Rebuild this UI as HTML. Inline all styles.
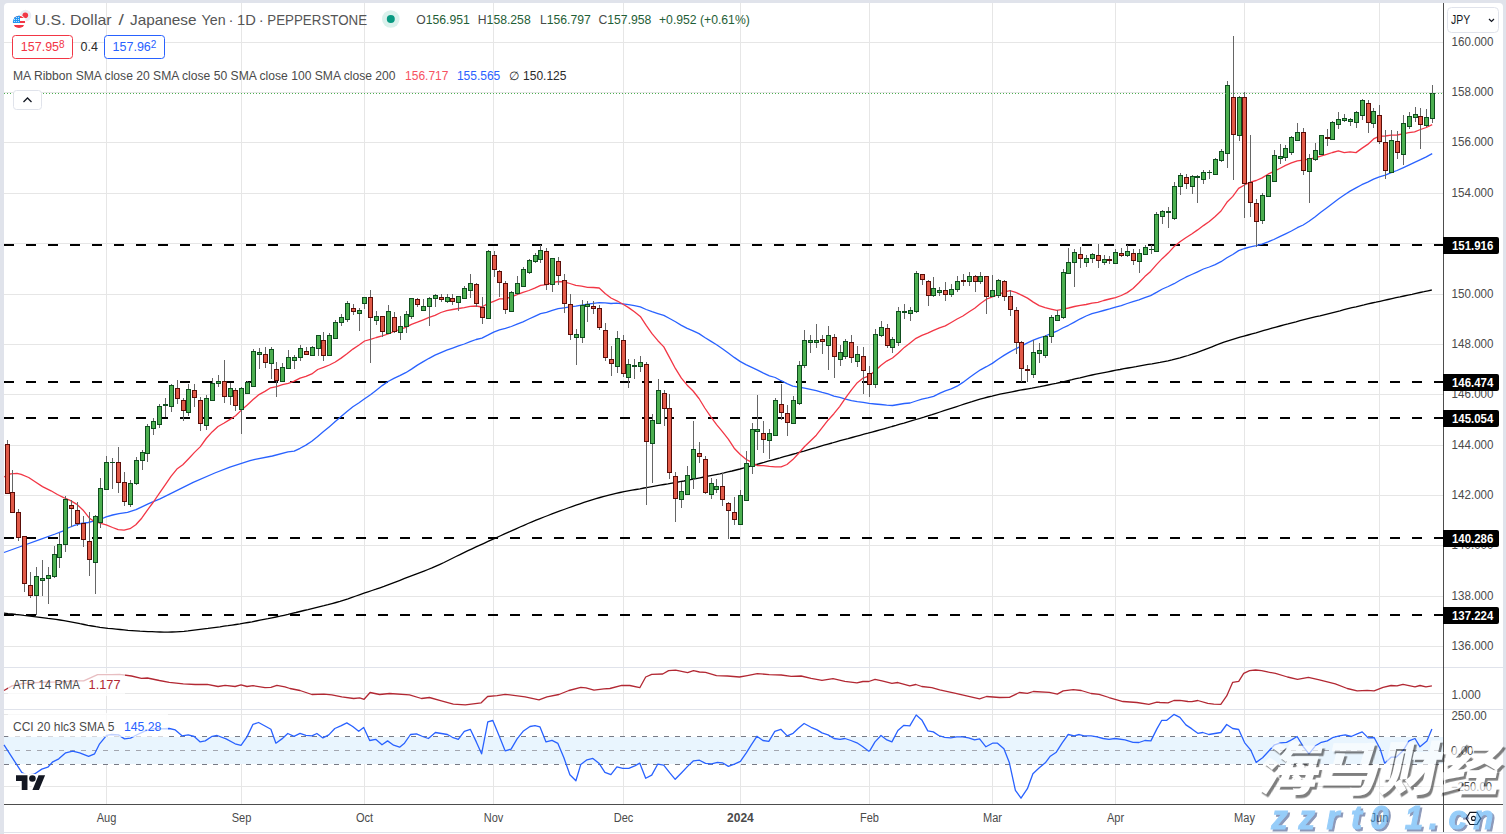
<!DOCTYPE html>
<html><head><meta charset="utf-8"><title>USDJPY 1D</title>
<style>html,body{margin:0;padding:0;background:#e0e3eb;}svg{display:block;}</style></head>
<body><svg width="1506" height="834" viewBox="0 0 1506 834"><defs><filter id="blur1" x="-10%" y="-10%" width="120%" height="120%"><feGaussianBlur stdDeviation="0.7"/></filter></defs><rect x="0" y="0" width="1506" height="834" fill="#e0e3eb"/><path d="M4 7 Q4 3 8 3 H1499 Q1503 3 1503 7 V832 H4 Z" fill="#ffffff"/><rect x="4" y="833" width="1499" height="1" fill="#ffffff"/><g shape-rendering="crispEdges"><rect x="106" y="3" width="1" height="801" fill="#e6e6e6"/><rect x="241" y="3" width="1" height="801" fill="#e6e6e6"/><rect x="364" y="3" width="1" height="801" fill="#e6e6e6"/><rect x="493" y="3" width="1" height="801" fill="#e6e6e6"/><rect x="623" y="3" width="1" height="801" fill="#e6e6e6"/><rect x="740" y="3" width="1" height="801" fill="#e6e6e6"/><rect x="869" y="3" width="1" height="801" fill="#e6e6e6"/><rect x="992" y="3" width="1" height="801" fill="#e6e6e6"/><rect x="1115" y="3" width="1" height="801" fill="#e6e6e6"/><rect x="1244" y="3" width="1" height="801" fill="#e6e6e6"/><rect x="1379" y="3" width="1" height="801" fill="#e6e6e6"/><rect x="4" y="646" width="1439" height="1" fill="#e6e6e6"/><rect x="4" y="596" width="1439" height="1" fill="#e6e6e6"/><rect x="4" y="545" width="1439" height="1" fill="#e6e6e6"/><rect x="4" y="495" width="1439" height="1" fill="#e6e6e6"/><rect x="4" y="445" width="1439" height="1" fill="#e6e6e6"/><rect x="4" y="394" width="1439" height="1" fill="#e6e6e6"/><rect x="4" y="344" width="1439" height="1" fill="#e6e6e6"/><rect x="4" y="294" width="1439" height="1" fill="#e6e6e6"/><rect x="4" y="243" width="1439" height="1" fill="#e6e6e6"/><rect x="4" y="193" width="1439" height="1" fill="#e6e6e6"/><rect x="4" y="142" width="1439" height="1" fill="#e6e6e6"/><rect x="4" y="92" width="1439" height="1" fill="#e6e6e6"/><rect x="4" y="42" width="1439" height="1" fill="#e6e6e6"/><rect x="4" y="693" width="1439" height="1" fill="#e6e6e6"/><rect x="4" y="714" width="1439" height="1" fill="#e6e6e6"/><rect x="4" y="786" width="1439" height="1" fill="#e6e6e6"/></g><rect x="4" y="737" width="1439" height="27" fill="#e9f5fe"/><g shape-rendering="crispEdges"><rect x="4" y="736" width="5" height="1" fill="#787b86"/><rect x="15" y="736" width="5" height="1" fill="#787b86"/><rect x="26" y="736" width="5" height="1" fill="#787b86"/><rect x="37" y="736" width="5" height="1" fill="#787b86"/><rect x="48" y="736" width="5" height="1" fill="#787b86"/><rect x="59" y="736" width="5" height="1" fill="#787b86"/><rect x="70" y="736" width="5" height="1" fill="#787b86"/><rect x="81" y="736" width="5" height="1" fill="#787b86"/><rect x="92" y="736" width="5" height="1" fill="#787b86"/><rect x="103" y="736" width="5" height="1" fill="#787b86"/><rect x="114" y="736" width="5" height="1" fill="#787b86"/><rect x="125" y="736" width="5" height="1" fill="#787b86"/><rect x="136" y="736" width="5" height="1" fill="#787b86"/><rect x="147" y="736" width="5" height="1" fill="#787b86"/><rect x="158" y="736" width="5" height="1" fill="#787b86"/><rect x="169" y="736" width="5" height="1" fill="#787b86"/><rect x="180" y="736" width="5" height="1" fill="#787b86"/><rect x="191" y="736" width="5" height="1" fill="#787b86"/><rect x="202" y="736" width="5" height="1" fill="#787b86"/><rect x="213" y="736" width="5" height="1" fill="#787b86"/><rect x="224" y="736" width="5" height="1" fill="#787b86"/><rect x="235" y="736" width="5" height="1" fill="#787b86"/><rect x="246" y="736" width="5" height="1" fill="#787b86"/><rect x="257" y="736" width="5" height="1" fill="#787b86"/><rect x="268" y="736" width="5" height="1" fill="#787b86"/><rect x="279" y="736" width="5" height="1" fill="#787b86"/><rect x="290" y="736" width="5" height="1" fill="#787b86"/><rect x="301" y="736" width="5" height="1" fill="#787b86"/><rect x="312" y="736" width="5" height="1" fill="#787b86"/><rect x="323" y="736" width="5" height="1" fill="#787b86"/><rect x="334" y="736" width="5" height="1" fill="#787b86"/><rect x="345" y="736" width="5" height="1" fill="#787b86"/><rect x="356" y="736" width="5" height="1" fill="#787b86"/><rect x="367" y="736" width="5" height="1" fill="#787b86"/><rect x="378" y="736" width="5" height="1" fill="#787b86"/><rect x="389" y="736" width="5" height="1" fill="#787b86"/><rect x="400" y="736" width="5" height="1" fill="#787b86"/><rect x="411" y="736" width="5" height="1" fill="#787b86"/><rect x="422" y="736" width="5" height="1" fill="#787b86"/><rect x="433" y="736" width="5" height="1" fill="#787b86"/><rect x="444" y="736" width="5" height="1" fill="#787b86"/><rect x="455" y="736" width="5" height="1" fill="#787b86"/><rect x="466" y="736" width="5" height="1" fill="#787b86"/><rect x="477" y="736" width="5" height="1" fill="#787b86"/><rect x="488" y="736" width="5" height="1" fill="#787b86"/><rect x="499" y="736" width="5" height="1" fill="#787b86"/><rect x="510" y="736" width="5" height="1" fill="#787b86"/><rect x="521" y="736" width="5" height="1" fill="#787b86"/><rect x="532" y="736" width="5" height="1" fill="#787b86"/><rect x="543" y="736" width="5" height="1" fill="#787b86"/><rect x="554" y="736" width="5" height="1" fill="#787b86"/><rect x="565" y="736" width="5" height="1" fill="#787b86"/><rect x="576" y="736" width="5" height="1" fill="#787b86"/><rect x="587" y="736" width="5" height="1" fill="#787b86"/><rect x="598" y="736" width="5" height="1" fill="#787b86"/><rect x="609" y="736" width="5" height="1" fill="#787b86"/><rect x="620" y="736" width="5" height="1" fill="#787b86"/><rect x="631" y="736" width="5" height="1" fill="#787b86"/><rect x="642" y="736" width="5" height="1" fill="#787b86"/><rect x="653" y="736" width="5" height="1" fill="#787b86"/><rect x="664" y="736" width="5" height="1" fill="#787b86"/><rect x="675" y="736" width="5" height="1" fill="#787b86"/><rect x="686" y="736" width="5" height="1" fill="#787b86"/><rect x="697" y="736" width="5" height="1" fill="#787b86"/><rect x="708" y="736" width="5" height="1" fill="#787b86"/><rect x="719" y="736" width="5" height="1" fill="#787b86"/><rect x="730" y="736" width="5" height="1" fill="#787b86"/><rect x="741" y="736" width="5" height="1" fill="#787b86"/><rect x="752" y="736" width="5" height="1" fill="#787b86"/><rect x="763" y="736" width="5" height="1" fill="#787b86"/><rect x="774" y="736" width="5" height="1" fill="#787b86"/><rect x="785" y="736" width="5" height="1" fill="#787b86"/><rect x="796" y="736" width="5" height="1" fill="#787b86"/><rect x="807" y="736" width="5" height="1" fill="#787b86"/><rect x="818" y="736" width="5" height="1" fill="#787b86"/><rect x="829" y="736" width="5" height="1" fill="#787b86"/><rect x="840" y="736" width="5" height="1" fill="#787b86"/><rect x="851" y="736" width="5" height="1" fill="#787b86"/><rect x="862" y="736" width="5" height="1" fill="#787b86"/><rect x="873" y="736" width="5" height="1" fill="#787b86"/><rect x="884" y="736" width="5" height="1" fill="#787b86"/><rect x="895" y="736" width="5" height="1" fill="#787b86"/><rect x="906" y="736" width="5" height="1" fill="#787b86"/><rect x="917" y="736" width="5" height="1" fill="#787b86"/><rect x="928" y="736" width="5" height="1" fill="#787b86"/><rect x="939" y="736" width="5" height="1" fill="#787b86"/><rect x="950" y="736" width="5" height="1" fill="#787b86"/><rect x="961" y="736" width="5" height="1" fill="#787b86"/><rect x="972" y="736" width="5" height="1" fill="#787b86"/><rect x="983" y="736" width="5" height="1" fill="#787b86"/><rect x="994" y="736" width="5" height="1" fill="#787b86"/><rect x="1005" y="736" width="5" height="1" fill="#787b86"/><rect x="1016" y="736" width="5" height="1" fill="#787b86"/><rect x="1027" y="736" width="5" height="1" fill="#787b86"/><rect x="1038" y="736" width="5" height="1" fill="#787b86"/><rect x="1049" y="736" width="5" height="1" fill="#787b86"/><rect x="1060" y="736" width="5" height="1" fill="#787b86"/><rect x="1071" y="736" width="5" height="1" fill="#787b86"/><rect x="1082" y="736" width="5" height="1" fill="#787b86"/><rect x="1093" y="736" width="5" height="1" fill="#787b86"/><rect x="1104" y="736" width="5" height="1" fill="#787b86"/><rect x="1115" y="736" width="5" height="1" fill="#787b86"/><rect x="1126" y="736" width="5" height="1" fill="#787b86"/><rect x="1137" y="736" width="5" height="1" fill="#787b86"/><rect x="1148" y="736" width="5" height="1" fill="#787b86"/><rect x="1159" y="736" width="5" height="1" fill="#787b86"/><rect x="1170" y="736" width="5" height="1" fill="#787b86"/><rect x="1181" y="736" width="5" height="1" fill="#787b86"/><rect x="1192" y="736" width="5" height="1" fill="#787b86"/><rect x="1203" y="736" width="5" height="1" fill="#787b86"/><rect x="1214" y="736" width="5" height="1" fill="#787b86"/><rect x="1225" y="736" width="5" height="1" fill="#787b86"/><rect x="1236" y="736" width="5" height="1" fill="#787b86"/><rect x="1247" y="736" width="5" height="1" fill="#787b86"/><rect x="1258" y="736" width="5" height="1" fill="#787b86"/><rect x="1269" y="736" width="5" height="1" fill="#787b86"/><rect x="1280" y="736" width="5" height="1" fill="#787b86"/><rect x="1291" y="736" width="5" height="1" fill="#787b86"/><rect x="1302" y="736" width="5" height="1" fill="#787b86"/><rect x="1313" y="736" width="5" height="1" fill="#787b86"/><rect x="1324" y="736" width="5" height="1" fill="#787b86"/><rect x="1335" y="736" width="5" height="1" fill="#787b86"/><rect x="1346" y="736" width="5" height="1" fill="#787b86"/><rect x="1357" y="736" width="5" height="1" fill="#787b86"/><rect x="1368" y="736" width="5" height="1" fill="#787b86"/><rect x="1379" y="736" width="5" height="1" fill="#787b86"/><rect x="1390" y="736" width="5" height="1" fill="#787b86"/><rect x="1401" y="736" width="5" height="1" fill="#787b86"/><rect x="1412" y="736" width="5" height="1" fill="#787b86"/><rect x="1423" y="736" width="5" height="1" fill="#787b86"/><rect x="1434" y="736" width="5" height="1" fill="#787b86"/><rect x="4" y="750" width="5" height="1" fill="#a3a6af"/><rect x="15" y="750" width="5" height="1" fill="#a3a6af"/><rect x="26" y="750" width="5" height="1" fill="#a3a6af"/><rect x="37" y="750" width="5" height="1" fill="#a3a6af"/><rect x="48" y="750" width="5" height="1" fill="#a3a6af"/><rect x="59" y="750" width="5" height="1" fill="#a3a6af"/><rect x="70" y="750" width="5" height="1" fill="#a3a6af"/><rect x="81" y="750" width="5" height="1" fill="#a3a6af"/><rect x="92" y="750" width="5" height="1" fill="#a3a6af"/><rect x="103" y="750" width="5" height="1" fill="#a3a6af"/><rect x="114" y="750" width="5" height="1" fill="#a3a6af"/><rect x="125" y="750" width="5" height="1" fill="#a3a6af"/><rect x="136" y="750" width="5" height="1" fill="#a3a6af"/><rect x="147" y="750" width="5" height="1" fill="#a3a6af"/><rect x="158" y="750" width="5" height="1" fill="#a3a6af"/><rect x="169" y="750" width="5" height="1" fill="#a3a6af"/><rect x="180" y="750" width="5" height="1" fill="#a3a6af"/><rect x="191" y="750" width="5" height="1" fill="#a3a6af"/><rect x="202" y="750" width="5" height="1" fill="#a3a6af"/><rect x="213" y="750" width="5" height="1" fill="#a3a6af"/><rect x="224" y="750" width="5" height="1" fill="#a3a6af"/><rect x="235" y="750" width="5" height="1" fill="#a3a6af"/><rect x="246" y="750" width="5" height="1" fill="#a3a6af"/><rect x="257" y="750" width="5" height="1" fill="#a3a6af"/><rect x="268" y="750" width="5" height="1" fill="#a3a6af"/><rect x="279" y="750" width="5" height="1" fill="#a3a6af"/><rect x="290" y="750" width="5" height="1" fill="#a3a6af"/><rect x="301" y="750" width="5" height="1" fill="#a3a6af"/><rect x="312" y="750" width="5" height="1" fill="#a3a6af"/><rect x="323" y="750" width="5" height="1" fill="#a3a6af"/><rect x="334" y="750" width="5" height="1" fill="#a3a6af"/><rect x="345" y="750" width="5" height="1" fill="#a3a6af"/><rect x="356" y="750" width="5" height="1" fill="#a3a6af"/><rect x="367" y="750" width="5" height="1" fill="#a3a6af"/><rect x="378" y="750" width="5" height="1" fill="#a3a6af"/><rect x="389" y="750" width="5" height="1" fill="#a3a6af"/><rect x="400" y="750" width="5" height="1" fill="#a3a6af"/><rect x="411" y="750" width="5" height="1" fill="#a3a6af"/><rect x="422" y="750" width="5" height="1" fill="#a3a6af"/><rect x="433" y="750" width="5" height="1" fill="#a3a6af"/><rect x="444" y="750" width="5" height="1" fill="#a3a6af"/><rect x="455" y="750" width="5" height="1" fill="#a3a6af"/><rect x="466" y="750" width="5" height="1" fill="#a3a6af"/><rect x="477" y="750" width="5" height="1" fill="#a3a6af"/><rect x="488" y="750" width="5" height="1" fill="#a3a6af"/><rect x="499" y="750" width="5" height="1" fill="#a3a6af"/><rect x="510" y="750" width="5" height="1" fill="#a3a6af"/><rect x="521" y="750" width="5" height="1" fill="#a3a6af"/><rect x="532" y="750" width="5" height="1" fill="#a3a6af"/><rect x="543" y="750" width="5" height="1" fill="#a3a6af"/><rect x="554" y="750" width="5" height="1" fill="#a3a6af"/><rect x="565" y="750" width="5" height="1" fill="#a3a6af"/><rect x="576" y="750" width="5" height="1" fill="#a3a6af"/><rect x="587" y="750" width="5" height="1" fill="#a3a6af"/><rect x="598" y="750" width="5" height="1" fill="#a3a6af"/><rect x="609" y="750" width="5" height="1" fill="#a3a6af"/><rect x="620" y="750" width="5" height="1" fill="#a3a6af"/><rect x="631" y="750" width="5" height="1" fill="#a3a6af"/><rect x="642" y="750" width="5" height="1" fill="#a3a6af"/><rect x="653" y="750" width="5" height="1" fill="#a3a6af"/><rect x="664" y="750" width="5" height="1" fill="#a3a6af"/><rect x="675" y="750" width="5" height="1" fill="#a3a6af"/><rect x="686" y="750" width="5" height="1" fill="#a3a6af"/><rect x="697" y="750" width="5" height="1" fill="#a3a6af"/><rect x="708" y="750" width="5" height="1" fill="#a3a6af"/><rect x="719" y="750" width="5" height="1" fill="#a3a6af"/><rect x="730" y="750" width="5" height="1" fill="#a3a6af"/><rect x="741" y="750" width="5" height="1" fill="#a3a6af"/><rect x="752" y="750" width="5" height="1" fill="#a3a6af"/><rect x="763" y="750" width="5" height="1" fill="#a3a6af"/><rect x="774" y="750" width="5" height="1" fill="#a3a6af"/><rect x="785" y="750" width="5" height="1" fill="#a3a6af"/><rect x="796" y="750" width="5" height="1" fill="#a3a6af"/><rect x="807" y="750" width="5" height="1" fill="#a3a6af"/><rect x="818" y="750" width="5" height="1" fill="#a3a6af"/><rect x="829" y="750" width="5" height="1" fill="#a3a6af"/><rect x="840" y="750" width="5" height="1" fill="#a3a6af"/><rect x="851" y="750" width="5" height="1" fill="#a3a6af"/><rect x="862" y="750" width="5" height="1" fill="#a3a6af"/><rect x="873" y="750" width="5" height="1" fill="#a3a6af"/><rect x="884" y="750" width="5" height="1" fill="#a3a6af"/><rect x="895" y="750" width="5" height="1" fill="#a3a6af"/><rect x="906" y="750" width="5" height="1" fill="#a3a6af"/><rect x="917" y="750" width="5" height="1" fill="#a3a6af"/><rect x="928" y="750" width="5" height="1" fill="#a3a6af"/><rect x="939" y="750" width="5" height="1" fill="#a3a6af"/><rect x="950" y="750" width="5" height="1" fill="#a3a6af"/><rect x="961" y="750" width="5" height="1" fill="#a3a6af"/><rect x="972" y="750" width="5" height="1" fill="#a3a6af"/><rect x="983" y="750" width="5" height="1" fill="#a3a6af"/><rect x="994" y="750" width="5" height="1" fill="#a3a6af"/><rect x="1005" y="750" width="5" height="1" fill="#a3a6af"/><rect x="1016" y="750" width="5" height="1" fill="#a3a6af"/><rect x="1027" y="750" width="5" height="1" fill="#a3a6af"/><rect x="1038" y="750" width="5" height="1" fill="#a3a6af"/><rect x="1049" y="750" width="5" height="1" fill="#a3a6af"/><rect x="1060" y="750" width="5" height="1" fill="#a3a6af"/><rect x="1071" y="750" width="5" height="1" fill="#a3a6af"/><rect x="1082" y="750" width="5" height="1" fill="#a3a6af"/><rect x="1093" y="750" width="5" height="1" fill="#a3a6af"/><rect x="1104" y="750" width="5" height="1" fill="#a3a6af"/><rect x="1115" y="750" width="5" height="1" fill="#a3a6af"/><rect x="1126" y="750" width="5" height="1" fill="#a3a6af"/><rect x="1137" y="750" width="5" height="1" fill="#a3a6af"/><rect x="1148" y="750" width="5" height="1" fill="#a3a6af"/><rect x="1159" y="750" width="5" height="1" fill="#a3a6af"/><rect x="1170" y="750" width="5" height="1" fill="#a3a6af"/><rect x="1181" y="750" width="5" height="1" fill="#a3a6af"/><rect x="1192" y="750" width="5" height="1" fill="#a3a6af"/><rect x="1203" y="750" width="5" height="1" fill="#a3a6af"/><rect x="1214" y="750" width="5" height="1" fill="#a3a6af"/><rect x="1225" y="750" width="5" height="1" fill="#a3a6af"/><rect x="1236" y="750" width="5" height="1" fill="#a3a6af"/><rect x="1247" y="750" width="5" height="1" fill="#a3a6af"/><rect x="1258" y="750" width="5" height="1" fill="#a3a6af"/><rect x="1269" y="750" width="5" height="1" fill="#a3a6af"/><rect x="1280" y="750" width="5" height="1" fill="#a3a6af"/><rect x="1291" y="750" width="5" height="1" fill="#a3a6af"/><rect x="1302" y="750" width="5" height="1" fill="#a3a6af"/><rect x="1313" y="750" width="5" height="1" fill="#a3a6af"/><rect x="1324" y="750" width="5" height="1" fill="#a3a6af"/><rect x="1335" y="750" width="5" height="1" fill="#a3a6af"/><rect x="1346" y="750" width="5" height="1" fill="#a3a6af"/><rect x="1357" y="750" width="5" height="1" fill="#a3a6af"/><rect x="1368" y="750" width="5" height="1" fill="#a3a6af"/><rect x="1379" y="750" width="5" height="1" fill="#a3a6af"/><rect x="1390" y="750" width="5" height="1" fill="#a3a6af"/><rect x="1401" y="750" width="5" height="1" fill="#a3a6af"/><rect x="1412" y="750" width="5" height="1" fill="#a3a6af"/><rect x="1423" y="750" width="5" height="1" fill="#a3a6af"/><rect x="1434" y="750" width="5" height="1" fill="#a3a6af"/><rect x="4" y="764" width="5" height="1" fill="#787b86"/><rect x="15" y="764" width="5" height="1" fill="#787b86"/><rect x="26" y="764" width="5" height="1" fill="#787b86"/><rect x="37" y="764" width="5" height="1" fill="#787b86"/><rect x="48" y="764" width="5" height="1" fill="#787b86"/><rect x="59" y="764" width="5" height="1" fill="#787b86"/><rect x="70" y="764" width="5" height="1" fill="#787b86"/><rect x="81" y="764" width="5" height="1" fill="#787b86"/><rect x="92" y="764" width="5" height="1" fill="#787b86"/><rect x="103" y="764" width="5" height="1" fill="#787b86"/><rect x="114" y="764" width="5" height="1" fill="#787b86"/><rect x="125" y="764" width="5" height="1" fill="#787b86"/><rect x="136" y="764" width="5" height="1" fill="#787b86"/><rect x="147" y="764" width="5" height="1" fill="#787b86"/><rect x="158" y="764" width="5" height="1" fill="#787b86"/><rect x="169" y="764" width="5" height="1" fill="#787b86"/><rect x="180" y="764" width="5" height="1" fill="#787b86"/><rect x="191" y="764" width="5" height="1" fill="#787b86"/><rect x="202" y="764" width="5" height="1" fill="#787b86"/><rect x="213" y="764" width="5" height="1" fill="#787b86"/><rect x="224" y="764" width="5" height="1" fill="#787b86"/><rect x="235" y="764" width="5" height="1" fill="#787b86"/><rect x="246" y="764" width="5" height="1" fill="#787b86"/><rect x="257" y="764" width="5" height="1" fill="#787b86"/><rect x="268" y="764" width="5" height="1" fill="#787b86"/><rect x="279" y="764" width="5" height="1" fill="#787b86"/><rect x="290" y="764" width="5" height="1" fill="#787b86"/><rect x="301" y="764" width="5" height="1" fill="#787b86"/><rect x="312" y="764" width="5" height="1" fill="#787b86"/><rect x="323" y="764" width="5" height="1" fill="#787b86"/><rect x="334" y="764" width="5" height="1" fill="#787b86"/><rect x="345" y="764" width="5" height="1" fill="#787b86"/><rect x="356" y="764" width="5" height="1" fill="#787b86"/><rect x="367" y="764" width="5" height="1" fill="#787b86"/><rect x="378" y="764" width="5" height="1" fill="#787b86"/><rect x="389" y="764" width="5" height="1" fill="#787b86"/><rect x="400" y="764" width="5" height="1" fill="#787b86"/><rect x="411" y="764" width="5" height="1" fill="#787b86"/><rect x="422" y="764" width="5" height="1" fill="#787b86"/><rect x="433" y="764" width="5" height="1" fill="#787b86"/><rect x="444" y="764" width="5" height="1" fill="#787b86"/><rect x="455" y="764" width="5" height="1" fill="#787b86"/><rect x="466" y="764" width="5" height="1" fill="#787b86"/><rect x="477" y="764" width="5" height="1" fill="#787b86"/><rect x="488" y="764" width="5" height="1" fill="#787b86"/><rect x="499" y="764" width="5" height="1" fill="#787b86"/><rect x="510" y="764" width="5" height="1" fill="#787b86"/><rect x="521" y="764" width="5" height="1" fill="#787b86"/><rect x="532" y="764" width="5" height="1" fill="#787b86"/><rect x="543" y="764" width="5" height="1" fill="#787b86"/><rect x="554" y="764" width="5" height="1" fill="#787b86"/><rect x="565" y="764" width="5" height="1" fill="#787b86"/><rect x="576" y="764" width="5" height="1" fill="#787b86"/><rect x="587" y="764" width="5" height="1" fill="#787b86"/><rect x="598" y="764" width="5" height="1" fill="#787b86"/><rect x="609" y="764" width="5" height="1" fill="#787b86"/><rect x="620" y="764" width="5" height="1" fill="#787b86"/><rect x="631" y="764" width="5" height="1" fill="#787b86"/><rect x="642" y="764" width="5" height="1" fill="#787b86"/><rect x="653" y="764" width="5" height="1" fill="#787b86"/><rect x="664" y="764" width="5" height="1" fill="#787b86"/><rect x="675" y="764" width="5" height="1" fill="#787b86"/><rect x="686" y="764" width="5" height="1" fill="#787b86"/><rect x="697" y="764" width="5" height="1" fill="#787b86"/><rect x="708" y="764" width="5" height="1" fill="#787b86"/><rect x="719" y="764" width="5" height="1" fill="#787b86"/><rect x="730" y="764" width="5" height="1" fill="#787b86"/><rect x="741" y="764" width="5" height="1" fill="#787b86"/><rect x="752" y="764" width="5" height="1" fill="#787b86"/><rect x="763" y="764" width="5" height="1" fill="#787b86"/><rect x="774" y="764" width="5" height="1" fill="#787b86"/><rect x="785" y="764" width="5" height="1" fill="#787b86"/><rect x="796" y="764" width="5" height="1" fill="#787b86"/><rect x="807" y="764" width="5" height="1" fill="#787b86"/><rect x="818" y="764" width="5" height="1" fill="#787b86"/><rect x="829" y="764" width="5" height="1" fill="#787b86"/><rect x="840" y="764" width="5" height="1" fill="#787b86"/><rect x="851" y="764" width="5" height="1" fill="#787b86"/><rect x="862" y="764" width="5" height="1" fill="#787b86"/><rect x="873" y="764" width="5" height="1" fill="#787b86"/><rect x="884" y="764" width="5" height="1" fill="#787b86"/><rect x="895" y="764" width="5" height="1" fill="#787b86"/><rect x="906" y="764" width="5" height="1" fill="#787b86"/><rect x="917" y="764" width="5" height="1" fill="#787b86"/><rect x="928" y="764" width="5" height="1" fill="#787b86"/><rect x="939" y="764" width="5" height="1" fill="#787b86"/><rect x="950" y="764" width="5" height="1" fill="#787b86"/><rect x="961" y="764" width="5" height="1" fill="#787b86"/><rect x="972" y="764" width="5" height="1" fill="#787b86"/><rect x="983" y="764" width="5" height="1" fill="#787b86"/><rect x="994" y="764" width="5" height="1" fill="#787b86"/><rect x="1005" y="764" width="5" height="1" fill="#787b86"/><rect x="1016" y="764" width="5" height="1" fill="#787b86"/><rect x="1027" y="764" width="5" height="1" fill="#787b86"/><rect x="1038" y="764" width="5" height="1" fill="#787b86"/><rect x="1049" y="764" width="5" height="1" fill="#787b86"/><rect x="1060" y="764" width="5" height="1" fill="#787b86"/><rect x="1071" y="764" width="5" height="1" fill="#787b86"/><rect x="1082" y="764" width="5" height="1" fill="#787b86"/><rect x="1093" y="764" width="5" height="1" fill="#787b86"/><rect x="1104" y="764" width="5" height="1" fill="#787b86"/><rect x="1115" y="764" width="5" height="1" fill="#787b86"/><rect x="1126" y="764" width="5" height="1" fill="#787b86"/><rect x="1137" y="764" width="5" height="1" fill="#787b86"/><rect x="1148" y="764" width="5" height="1" fill="#787b86"/><rect x="1159" y="764" width="5" height="1" fill="#787b86"/><rect x="1170" y="764" width="5" height="1" fill="#787b86"/><rect x="1181" y="764" width="5" height="1" fill="#787b86"/><rect x="1192" y="764" width="5" height="1" fill="#787b86"/><rect x="1203" y="764" width="5" height="1" fill="#787b86"/><rect x="1214" y="764" width="5" height="1" fill="#787b86"/><rect x="1225" y="764" width="5" height="1" fill="#787b86"/><rect x="1236" y="764" width="5" height="1" fill="#787b86"/><rect x="1247" y="764" width="5" height="1" fill="#787b86"/><rect x="1258" y="764" width="5" height="1" fill="#787b86"/><rect x="1269" y="764" width="5" height="1" fill="#787b86"/><rect x="1280" y="764" width="5" height="1" fill="#787b86"/><rect x="1291" y="764" width="5" height="1" fill="#787b86"/><rect x="1302" y="764" width="5" height="1" fill="#787b86"/><rect x="1313" y="764" width="5" height="1" fill="#787b86"/><rect x="1324" y="764" width="5" height="1" fill="#787b86"/><rect x="1335" y="764" width="5" height="1" fill="#787b86"/><rect x="1346" y="764" width="5" height="1" fill="#787b86"/><rect x="1357" y="764" width="5" height="1" fill="#787b86"/><rect x="1368" y="764" width="5" height="1" fill="#787b86"/><rect x="1379" y="764" width="5" height="1" fill="#787b86"/><rect x="1390" y="764" width="5" height="1" fill="#787b86"/><rect x="1401" y="764" width="5" height="1" fill="#787b86"/><rect x="1412" y="764" width="5" height="1" fill="#787b86"/><rect x="1423" y="764" width="5" height="1" fill="#787b86"/><rect x="1434" y="764" width="5" height="1" fill="#787b86"/></g><g shape-rendering="crispEdges"><rect x="4" y="667" width="1499" height="1" fill="#e0e3eb"/><rect x="4" y="709" width="1499" height="1" fill="#e0e3eb"/></g><g shape-rendering="crispEdges"><rect x="4" y="244" width="10" height="2" fill="#000000"/><rect x="26" y="244" width="10" height="2" fill="#000000"/><rect x="48" y="244" width="10" height="2" fill="#000000"/><rect x="70" y="244" width="10" height="2" fill="#000000"/><rect x="92" y="244" width="10" height="2" fill="#000000"/><rect x="114" y="244" width="10" height="2" fill="#000000"/><rect x="136" y="244" width="10" height="2" fill="#000000"/><rect x="158" y="244" width="10" height="2" fill="#000000"/><rect x="180" y="244" width="10" height="2" fill="#000000"/><rect x="202" y="244" width="10" height="2" fill="#000000"/><rect x="224" y="244" width="10" height="2" fill="#000000"/><rect x="246" y="244" width="10" height="2" fill="#000000"/><rect x="268" y="244" width="10" height="2" fill="#000000"/><rect x="290" y="244" width="10" height="2" fill="#000000"/><rect x="312" y="244" width="10" height="2" fill="#000000"/><rect x="334" y="244" width="10" height="2" fill="#000000"/><rect x="356" y="244" width="10" height="2" fill="#000000"/><rect x="378" y="244" width="10" height="2" fill="#000000"/><rect x="400" y="244" width="10" height="2" fill="#000000"/><rect x="422" y="244" width="10" height="2" fill="#000000"/><rect x="444" y="244" width="10" height="2" fill="#000000"/><rect x="466" y="244" width="10" height="2" fill="#000000"/><rect x="488" y="244" width="10" height="2" fill="#000000"/><rect x="510" y="244" width="10" height="2" fill="#000000"/><rect x="532" y="244" width="10" height="2" fill="#000000"/><rect x="554" y="244" width="10" height="2" fill="#000000"/><rect x="576" y="244" width="10" height="2" fill="#000000"/><rect x="598" y="244" width="10" height="2" fill="#000000"/><rect x="620" y="244" width="10" height="2" fill="#000000"/><rect x="642" y="244" width="10" height="2" fill="#000000"/><rect x="664" y="244" width="10" height="2" fill="#000000"/><rect x="686" y="244" width="10" height="2" fill="#000000"/><rect x="708" y="244" width="10" height="2" fill="#000000"/><rect x="730" y="244" width="10" height="2" fill="#000000"/><rect x="752" y="244" width="10" height="2" fill="#000000"/><rect x="774" y="244" width="10" height="2" fill="#000000"/><rect x="796" y="244" width="10" height="2" fill="#000000"/><rect x="818" y="244" width="10" height="2" fill="#000000"/><rect x="840" y="244" width="10" height="2" fill="#000000"/><rect x="862" y="244" width="10" height="2" fill="#000000"/><rect x="884" y="244" width="10" height="2" fill="#000000"/><rect x="906" y="244" width="10" height="2" fill="#000000"/><rect x="928" y="244" width="10" height="2" fill="#000000"/><rect x="950" y="244" width="10" height="2" fill="#000000"/><rect x="972" y="244" width="10" height="2" fill="#000000"/><rect x="994" y="244" width="10" height="2" fill="#000000"/><rect x="1016" y="244" width="10" height="2" fill="#000000"/><rect x="1038" y="244" width="10" height="2" fill="#000000"/><rect x="1060" y="244" width="10" height="2" fill="#000000"/><rect x="1082" y="244" width="10" height="2" fill="#000000"/><rect x="1104" y="244" width="10" height="2" fill="#000000"/><rect x="1126" y="244" width="10" height="2" fill="#000000"/><rect x="1148" y="244" width="10" height="2" fill="#000000"/><rect x="1170" y="244" width="10" height="2" fill="#000000"/><rect x="1192" y="244" width="10" height="2" fill="#000000"/><rect x="1214" y="244" width="10" height="2" fill="#000000"/><rect x="1236" y="244" width="10" height="2" fill="#000000"/><rect x="1258" y="244" width="10" height="2" fill="#000000"/><rect x="1280" y="244" width="10" height="2" fill="#000000"/><rect x="1302" y="244" width="10" height="2" fill="#000000"/><rect x="1324" y="244" width="10" height="2" fill="#000000"/><rect x="1346" y="244" width="10" height="2" fill="#000000"/><rect x="1368" y="244" width="10" height="2" fill="#000000"/><rect x="1390" y="244" width="10" height="2" fill="#000000"/><rect x="1412" y="244" width="10" height="2" fill="#000000"/><rect x="1434" y="244" width="9" height="2" fill="#000000"/><rect x="4" y="381" width="10" height="2" fill="#000000"/><rect x="26" y="381" width="10" height="2" fill="#000000"/><rect x="48" y="381" width="10" height="2" fill="#000000"/><rect x="70" y="381" width="10" height="2" fill="#000000"/><rect x="92" y="381" width="10" height="2" fill="#000000"/><rect x="114" y="381" width="10" height="2" fill="#000000"/><rect x="136" y="381" width="10" height="2" fill="#000000"/><rect x="158" y="381" width="10" height="2" fill="#000000"/><rect x="180" y="381" width="10" height="2" fill="#000000"/><rect x="202" y="381" width="10" height="2" fill="#000000"/><rect x="224" y="381" width="10" height="2" fill="#000000"/><rect x="246" y="381" width="10" height="2" fill="#000000"/><rect x="268" y="381" width="10" height="2" fill="#000000"/><rect x="290" y="381" width="10" height="2" fill="#000000"/><rect x="312" y="381" width="10" height="2" fill="#000000"/><rect x="334" y="381" width="10" height="2" fill="#000000"/><rect x="356" y="381" width="10" height="2" fill="#000000"/><rect x="378" y="381" width="10" height="2" fill="#000000"/><rect x="400" y="381" width="10" height="2" fill="#000000"/><rect x="422" y="381" width="10" height="2" fill="#000000"/><rect x="444" y="381" width="10" height="2" fill="#000000"/><rect x="466" y="381" width="10" height="2" fill="#000000"/><rect x="488" y="381" width="10" height="2" fill="#000000"/><rect x="510" y="381" width="10" height="2" fill="#000000"/><rect x="532" y="381" width="10" height="2" fill="#000000"/><rect x="554" y="381" width="10" height="2" fill="#000000"/><rect x="576" y="381" width="10" height="2" fill="#000000"/><rect x="598" y="381" width="10" height="2" fill="#000000"/><rect x="620" y="381" width="10" height="2" fill="#000000"/><rect x="642" y="381" width="10" height="2" fill="#000000"/><rect x="664" y="381" width="10" height="2" fill="#000000"/><rect x="686" y="381" width="10" height="2" fill="#000000"/><rect x="708" y="381" width="10" height="2" fill="#000000"/><rect x="730" y="381" width="10" height="2" fill="#000000"/><rect x="752" y="381" width="10" height="2" fill="#000000"/><rect x="774" y="381" width="10" height="2" fill="#000000"/><rect x="796" y="381" width="10" height="2" fill="#000000"/><rect x="818" y="381" width="10" height="2" fill="#000000"/><rect x="840" y="381" width="10" height="2" fill="#000000"/><rect x="862" y="381" width="10" height="2" fill="#000000"/><rect x="884" y="381" width="10" height="2" fill="#000000"/><rect x="906" y="381" width="10" height="2" fill="#000000"/><rect x="928" y="381" width="10" height="2" fill="#000000"/><rect x="950" y="381" width="10" height="2" fill="#000000"/><rect x="972" y="381" width="10" height="2" fill="#000000"/><rect x="994" y="381" width="10" height="2" fill="#000000"/><rect x="1016" y="381" width="10" height="2" fill="#000000"/><rect x="1038" y="381" width="10" height="2" fill="#000000"/><rect x="1060" y="381" width="10" height="2" fill="#000000"/><rect x="1082" y="381" width="10" height="2" fill="#000000"/><rect x="1104" y="381" width="10" height="2" fill="#000000"/><rect x="1126" y="381" width="10" height="2" fill="#000000"/><rect x="1148" y="381" width="10" height="2" fill="#000000"/><rect x="1170" y="381" width="10" height="2" fill="#000000"/><rect x="1192" y="381" width="10" height="2" fill="#000000"/><rect x="1214" y="381" width="10" height="2" fill="#000000"/><rect x="1236" y="381" width="10" height="2" fill="#000000"/><rect x="1258" y="381" width="10" height="2" fill="#000000"/><rect x="1280" y="381" width="10" height="2" fill="#000000"/><rect x="1302" y="381" width="10" height="2" fill="#000000"/><rect x="1324" y="381" width="10" height="2" fill="#000000"/><rect x="1346" y="381" width="10" height="2" fill="#000000"/><rect x="1368" y="381" width="10" height="2" fill="#000000"/><rect x="1390" y="381" width="10" height="2" fill="#000000"/><rect x="1412" y="381" width="10" height="2" fill="#000000"/><rect x="1434" y="381" width="9" height="2" fill="#000000"/><rect x="4" y="417" width="10" height="2" fill="#000000"/><rect x="26" y="417" width="10" height="2" fill="#000000"/><rect x="48" y="417" width="10" height="2" fill="#000000"/><rect x="70" y="417" width="10" height="2" fill="#000000"/><rect x="92" y="417" width="10" height="2" fill="#000000"/><rect x="114" y="417" width="10" height="2" fill="#000000"/><rect x="136" y="417" width="10" height="2" fill="#000000"/><rect x="158" y="417" width="10" height="2" fill="#000000"/><rect x="180" y="417" width="10" height="2" fill="#000000"/><rect x="202" y="417" width="10" height="2" fill="#000000"/><rect x="224" y="417" width="10" height="2" fill="#000000"/><rect x="246" y="417" width="10" height="2" fill="#000000"/><rect x="268" y="417" width="10" height="2" fill="#000000"/><rect x="290" y="417" width="10" height="2" fill="#000000"/><rect x="312" y="417" width="10" height="2" fill="#000000"/><rect x="334" y="417" width="10" height="2" fill="#000000"/><rect x="356" y="417" width="10" height="2" fill="#000000"/><rect x="378" y="417" width="10" height="2" fill="#000000"/><rect x="400" y="417" width="10" height="2" fill="#000000"/><rect x="422" y="417" width="10" height="2" fill="#000000"/><rect x="444" y="417" width="10" height="2" fill="#000000"/><rect x="466" y="417" width="10" height="2" fill="#000000"/><rect x="488" y="417" width="10" height="2" fill="#000000"/><rect x="510" y="417" width="10" height="2" fill="#000000"/><rect x="532" y="417" width="10" height="2" fill="#000000"/><rect x="554" y="417" width="10" height="2" fill="#000000"/><rect x="576" y="417" width="10" height="2" fill="#000000"/><rect x="598" y="417" width="10" height="2" fill="#000000"/><rect x="620" y="417" width="10" height="2" fill="#000000"/><rect x="642" y="417" width="10" height="2" fill="#000000"/><rect x="664" y="417" width="10" height="2" fill="#000000"/><rect x="686" y="417" width="10" height="2" fill="#000000"/><rect x="708" y="417" width="10" height="2" fill="#000000"/><rect x="730" y="417" width="10" height="2" fill="#000000"/><rect x="752" y="417" width="10" height="2" fill="#000000"/><rect x="774" y="417" width="10" height="2" fill="#000000"/><rect x="796" y="417" width="10" height="2" fill="#000000"/><rect x="818" y="417" width="10" height="2" fill="#000000"/><rect x="840" y="417" width="10" height="2" fill="#000000"/><rect x="862" y="417" width="10" height="2" fill="#000000"/><rect x="884" y="417" width="10" height="2" fill="#000000"/><rect x="906" y="417" width="10" height="2" fill="#000000"/><rect x="928" y="417" width="10" height="2" fill="#000000"/><rect x="950" y="417" width="10" height="2" fill="#000000"/><rect x="972" y="417" width="10" height="2" fill="#000000"/><rect x="994" y="417" width="10" height="2" fill="#000000"/><rect x="1016" y="417" width="10" height="2" fill="#000000"/><rect x="1038" y="417" width="10" height="2" fill="#000000"/><rect x="1060" y="417" width="10" height="2" fill="#000000"/><rect x="1082" y="417" width="10" height="2" fill="#000000"/><rect x="1104" y="417" width="10" height="2" fill="#000000"/><rect x="1126" y="417" width="10" height="2" fill="#000000"/><rect x="1148" y="417" width="10" height="2" fill="#000000"/><rect x="1170" y="417" width="10" height="2" fill="#000000"/><rect x="1192" y="417" width="10" height="2" fill="#000000"/><rect x="1214" y="417" width="10" height="2" fill="#000000"/><rect x="1236" y="417" width="10" height="2" fill="#000000"/><rect x="1258" y="417" width="10" height="2" fill="#000000"/><rect x="1280" y="417" width="10" height="2" fill="#000000"/><rect x="1302" y="417" width="10" height="2" fill="#000000"/><rect x="1324" y="417" width="10" height="2" fill="#000000"/><rect x="1346" y="417" width="10" height="2" fill="#000000"/><rect x="1368" y="417" width="10" height="2" fill="#000000"/><rect x="1390" y="417" width="10" height="2" fill="#000000"/><rect x="1412" y="417" width="10" height="2" fill="#000000"/><rect x="1434" y="417" width="9" height="2" fill="#000000"/><rect x="4" y="537" width="10" height="2" fill="#000000"/><rect x="26" y="537" width="10" height="2" fill="#000000"/><rect x="48" y="537" width="10" height="2" fill="#000000"/><rect x="70" y="537" width="10" height="2" fill="#000000"/><rect x="92" y="537" width="10" height="2" fill="#000000"/><rect x="114" y="537" width="10" height="2" fill="#000000"/><rect x="136" y="537" width="10" height="2" fill="#000000"/><rect x="158" y="537" width="10" height="2" fill="#000000"/><rect x="180" y="537" width="10" height="2" fill="#000000"/><rect x="202" y="537" width="10" height="2" fill="#000000"/><rect x="224" y="537" width="10" height="2" fill="#000000"/><rect x="246" y="537" width="10" height="2" fill="#000000"/><rect x="268" y="537" width="10" height="2" fill="#000000"/><rect x="290" y="537" width="10" height="2" fill="#000000"/><rect x="312" y="537" width="10" height="2" fill="#000000"/><rect x="334" y="537" width="10" height="2" fill="#000000"/><rect x="356" y="537" width="10" height="2" fill="#000000"/><rect x="378" y="537" width="10" height="2" fill="#000000"/><rect x="400" y="537" width="10" height="2" fill="#000000"/><rect x="422" y="537" width="10" height="2" fill="#000000"/><rect x="444" y="537" width="10" height="2" fill="#000000"/><rect x="466" y="537" width="10" height="2" fill="#000000"/><rect x="488" y="537" width="10" height="2" fill="#000000"/><rect x="510" y="537" width="10" height="2" fill="#000000"/><rect x="532" y="537" width="10" height="2" fill="#000000"/><rect x="554" y="537" width="10" height="2" fill="#000000"/><rect x="576" y="537" width="10" height="2" fill="#000000"/><rect x="598" y="537" width="10" height="2" fill="#000000"/><rect x="620" y="537" width="10" height="2" fill="#000000"/><rect x="642" y="537" width="10" height="2" fill="#000000"/><rect x="664" y="537" width="10" height="2" fill="#000000"/><rect x="686" y="537" width="10" height="2" fill="#000000"/><rect x="708" y="537" width="10" height="2" fill="#000000"/><rect x="730" y="537" width="10" height="2" fill="#000000"/><rect x="752" y="537" width="10" height="2" fill="#000000"/><rect x="774" y="537" width="10" height="2" fill="#000000"/><rect x="796" y="537" width="10" height="2" fill="#000000"/><rect x="818" y="537" width="10" height="2" fill="#000000"/><rect x="840" y="537" width="10" height="2" fill="#000000"/><rect x="862" y="537" width="10" height="2" fill="#000000"/><rect x="884" y="537" width="10" height="2" fill="#000000"/><rect x="906" y="537" width="10" height="2" fill="#000000"/><rect x="928" y="537" width="10" height="2" fill="#000000"/><rect x="950" y="537" width="10" height="2" fill="#000000"/><rect x="972" y="537" width="10" height="2" fill="#000000"/><rect x="994" y="537" width="10" height="2" fill="#000000"/><rect x="1016" y="537" width="10" height="2" fill="#000000"/><rect x="1038" y="537" width="10" height="2" fill="#000000"/><rect x="1060" y="537" width="10" height="2" fill="#000000"/><rect x="1082" y="537" width="10" height="2" fill="#000000"/><rect x="1104" y="537" width="10" height="2" fill="#000000"/><rect x="1126" y="537" width="10" height="2" fill="#000000"/><rect x="1148" y="537" width="10" height="2" fill="#000000"/><rect x="1170" y="537" width="10" height="2" fill="#000000"/><rect x="1192" y="537" width="10" height="2" fill="#000000"/><rect x="1214" y="537" width="10" height="2" fill="#000000"/><rect x="1236" y="537" width="10" height="2" fill="#000000"/><rect x="1258" y="537" width="10" height="2" fill="#000000"/><rect x="1280" y="537" width="10" height="2" fill="#000000"/><rect x="1302" y="537" width="10" height="2" fill="#000000"/><rect x="1324" y="537" width="10" height="2" fill="#000000"/><rect x="1346" y="537" width="10" height="2" fill="#000000"/><rect x="1368" y="537" width="10" height="2" fill="#000000"/><rect x="1390" y="537" width="10" height="2" fill="#000000"/><rect x="1412" y="537" width="10" height="2" fill="#000000"/><rect x="1434" y="537" width="9" height="2" fill="#000000"/><rect x="4" y="614" width="10" height="2" fill="#000000"/><rect x="26" y="614" width="10" height="2" fill="#000000"/><rect x="48" y="614" width="10" height="2" fill="#000000"/><rect x="70" y="614" width="10" height="2" fill="#000000"/><rect x="92" y="614" width="10" height="2" fill="#000000"/><rect x="114" y="614" width="10" height="2" fill="#000000"/><rect x="136" y="614" width="10" height="2" fill="#000000"/><rect x="158" y="614" width="10" height="2" fill="#000000"/><rect x="180" y="614" width="10" height="2" fill="#000000"/><rect x="202" y="614" width="10" height="2" fill="#000000"/><rect x="224" y="614" width="10" height="2" fill="#000000"/><rect x="246" y="614" width="10" height="2" fill="#000000"/><rect x="268" y="614" width="10" height="2" fill="#000000"/><rect x="290" y="614" width="10" height="2" fill="#000000"/><rect x="312" y="614" width="10" height="2" fill="#000000"/><rect x="334" y="614" width="10" height="2" fill="#000000"/><rect x="356" y="614" width="10" height="2" fill="#000000"/><rect x="378" y="614" width="10" height="2" fill="#000000"/><rect x="400" y="614" width="10" height="2" fill="#000000"/><rect x="422" y="614" width="10" height="2" fill="#000000"/><rect x="444" y="614" width="10" height="2" fill="#000000"/><rect x="466" y="614" width="10" height="2" fill="#000000"/><rect x="488" y="614" width="10" height="2" fill="#000000"/><rect x="510" y="614" width="10" height="2" fill="#000000"/><rect x="532" y="614" width="10" height="2" fill="#000000"/><rect x="554" y="614" width="10" height="2" fill="#000000"/><rect x="576" y="614" width="10" height="2" fill="#000000"/><rect x="598" y="614" width="10" height="2" fill="#000000"/><rect x="620" y="614" width="10" height="2" fill="#000000"/><rect x="642" y="614" width="10" height="2" fill="#000000"/><rect x="664" y="614" width="10" height="2" fill="#000000"/><rect x="686" y="614" width="10" height="2" fill="#000000"/><rect x="708" y="614" width="10" height="2" fill="#000000"/><rect x="730" y="614" width="10" height="2" fill="#000000"/><rect x="752" y="614" width="10" height="2" fill="#000000"/><rect x="774" y="614" width="10" height="2" fill="#000000"/><rect x="796" y="614" width="10" height="2" fill="#000000"/><rect x="818" y="614" width="10" height="2" fill="#000000"/><rect x="840" y="614" width="10" height="2" fill="#000000"/><rect x="862" y="614" width="10" height="2" fill="#000000"/><rect x="884" y="614" width="10" height="2" fill="#000000"/><rect x="906" y="614" width="10" height="2" fill="#000000"/><rect x="928" y="614" width="10" height="2" fill="#000000"/><rect x="950" y="614" width="10" height="2" fill="#000000"/><rect x="972" y="614" width="10" height="2" fill="#000000"/><rect x="994" y="614" width="10" height="2" fill="#000000"/><rect x="1016" y="614" width="10" height="2" fill="#000000"/><rect x="1038" y="614" width="10" height="2" fill="#000000"/><rect x="1060" y="614" width="10" height="2" fill="#000000"/><rect x="1082" y="614" width="10" height="2" fill="#000000"/><rect x="1104" y="614" width="10" height="2" fill="#000000"/><rect x="1126" y="614" width="10" height="2" fill="#000000"/><rect x="1148" y="614" width="10" height="2" fill="#000000"/><rect x="1170" y="614" width="10" height="2" fill="#000000"/><rect x="1192" y="614" width="10" height="2" fill="#000000"/><rect x="1214" y="614" width="10" height="2" fill="#000000"/><rect x="1236" y="614" width="10" height="2" fill="#000000"/><rect x="1258" y="614" width="10" height="2" fill="#000000"/><rect x="1280" y="614" width="10" height="2" fill="#000000"/><rect x="1302" y="614" width="10" height="2" fill="#000000"/><rect x="1324" y="614" width="10" height="2" fill="#000000"/><rect x="1346" y="614" width="10" height="2" fill="#000000"/><rect x="1368" y="614" width="10" height="2" fill="#000000"/><rect x="1390" y="614" width="10" height="2" fill="#000000"/><rect x="1412" y="614" width="10" height="2" fill="#000000"/><rect x="1434" y="614" width="9" height="2" fill="#000000"/></g><polyline points="4.0,613.1 8.0,613.6 12.0,614.0 16.0,614.5 20.0,614.9 24.0,615.4 28.0,615.8 32.0,616.3 36.0,616.8 40.0,617.3 44.0,617.8 48.0,618.4 52.0,618.9 56.0,619.4 60.0,620.0 64.0,620.7 68.0,621.4 72.0,622.1 76.0,622.8 80.0,623.7 84.0,624.5 88.0,625.3 92.0,626.0 96.0,626.7 100.0,627.3 104.0,627.8 108.0,628.3 112.0,628.7 116.0,629.1 120.0,629.5 124.0,629.9 128.0,630.3 132.0,630.6 136.0,630.9 140.0,631.2 144.0,631.4 148.0,631.6 152.0,631.7 156.0,631.9 160.0,632.0 164.0,632.1 168.0,632.1 172.0,632.0 176.0,631.9 180.0,631.6 184.0,631.3 188.0,630.9 192.0,630.4 196.0,629.9 200.0,629.4 204.0,628.9 208.0,628.4 212.0,627.8 216.0,627.3 220.0,626.8 224.0,626.2 228.0,625.7 232.0,625.1 236.0,624.5 240.0,623.9 244.0,623.2 248.0,622.5 252.0,621.8 256.0,621.0 260.0,620.2 264.0,619.4 268.0,618.7 272.0,617.8 276.0,617.0 280.0,616.2 284.0,615.3 288.0,614.4 292.0,613.4 296.0,612.5 300.0,611.5 304.0,610.5 308.0,609.6 312.0,608.6 316.0,607.6 320.0,606.6 324.0,605.7 328.0,604.7 332.0,603.6 336.0,602.5 340.0,601.4 344.0,600.1 348.0,598.8 352.0,597.4 356.0,596.0 360.0,594.6 364.0,593.2 368.0,591.8 372.0,590.5 376.0,589.2 380.0,587.8 384.0,586.4 388.0,584.9 392.0,583.4 396.0,581.8 400.0,580.3 404.0,578.7 408.0,577.2 412.0,575.7 416.0,574.1 420.0,572.6 424.0,571.1 428.0,569.5 432.0,567.9 436.0,566.1 440.0,564.3 444.0,562.5 448.0,560.5 452.0,558.5 456.0,556.5 460.0,554.6 464.0,552.6 468.0,550.7 472.0,548.8 476.0,546.9 480.0,545.1 484.0,543.3 488.0,541.4 492.0,539.6 496.0,537.8 500.0,536.0 504.0,534.2 508.0,532.4 512.0,530.6 516.0,528.8 520.0,527.0 524.0,525.3 528.0,523.5 532.0,521.9 536.0,520.2 540.0,518.6 544.0,517.0 548.0,515.5 552.0,513.9 556.0,512.4 560.0,510.9 564.0,509.5 568.0,508.0 572.0,506.6 576.0,505.2 580.0,503.8 584.0,502.4 588.0,501.1 592.0,499.8 596.0,498.6 600.0,497.5 604.0,496.4 608.0,495.3 612.0,494.3 616.0,493.4 620.0,492.5 624.0,491.7 628.0,490.9 632.0,490.2 636.0,489.5 640.0,488.8 644.0,488.0 648.0,487.3 652.0,486.6 656.0,485.9 660.0,485.2 664.0,484.5 668.0,483.9 672.0,483.2 676.0,482.5 680.0,481.7 684.0,481.0 688.0,480.2 692.0,479.4 696.0,478.6 700.0,477.8 704.0,477.0 708.0,476.2 712.0,475.4 716.0,474.6 720.0,473.8 724.0,472.9 728.0,471.9 732.0,471.0 736.0,470.0 740.0,469.0 744.0,467.9 748.0,466.8 752.0,465.7 756.0,464.6 760.0,463.5 764.0,462.4 768.0,461.2 772.0,460.1 776.0,459.0 780.0,457.9 784.0,456.7 788.0,455.6 792.0,454.5 796.0,453.4 800.0,452.2 804.0,451.1 808.0,449.9 812.0,448.7 816.0,447.6 820.0,446.4 824.0,445.2 828.0,444.1 832.0,443.0 836.0,441.8 840.0,440.7 844.0,439.6 848.0,438.6 852.0,437.5 856.0,436.4 860.0,435.3 864.0,434.2 868.0,433.2 872.0,432.1 876.0,431.0 880.0,429.9 884.0,428.8 888.0,427.7 892.0,426.5 896.0,425.4 900.0,424.2 904.0,423.1 908.0,421.9 912.0,420.7 916.0,419.5 920.0,418.3 924.0,417.1 928.0,415.8 932.0,414.6 936.0,413.3 940.0,412.0 944.0,410.7 948.0,409.4 952.0,408.1 956.0,406.8 960.0,405.5 964.0,404.2 968.0,402.9 972.0,401.7 976.0,400.4 980.0,399.2 984.0,398.1 988.0,397.0 992.0,396.1 996.0,395.1 1000.0,394.2 1004.0,393.4 1008.0,392.6 1012.0,391.8 1016.0,391.0 1020.0,390.2 1024.0,389.5 1028.0,388.8 1032.0,388.1 1036.0,387.3 1040.0,386.6 1044.0,385.8 1048.0,385.0 1052.0,384.2 1056.0,383.4 1060.0,382.5 1064.0,381.6 1068.0,380.6 1072.0,379.7 1076.0,378.7 1080.0,377.8 1084.0,376.8 1088.0,375.9 1092.0,375.0 1096.0,374.2 1100.0,373.4 1104.0,372.6 1108.0,371.8 1112.0,371.0 1116.0,370.2 1120.0,369.5 1124.0,368.7 1128.0,368.0 1132.0,367.3 1136.0,366.6 1140.0,365.8 1144.0,365.1 1148.0,364.4 1152.0,363.8 1156.0,363.1 1160.0,362.4 1164.0,361.6 1168.0,360.8 1172.0,359.9 1176.0,358.9 1180.0,357.9 1184.0,356.7 1188.0,355.5 1192.0,354.2 1196.0,352.8 1200.0,351.4 1204.0,349.9 1208.0,348.3 1212.0,346.8 1216.0,345.2 1220.0,343.7 1224.0,342.2 1228.0,340.9 1232.0,339.6 1236.0,338.4 1240.0,337.2 1244.0,336.1 1248.0,335.0 1252.0,333.9 1256.0,332.8 1260.0,331.6 1264.0,330.4 1268.0,329.3 1272.0,328.2 1276.0,327.1 1280.0,326.0 1284.0,324.9 1288.0,323.9 1292.0,322.8 1296.0,321.8 1300.0,320.7 1304.0,319.7 1308.0,318.7 1312.0,317.7 1316.0,316.7 1320.0,315.8 1324.0,314.8 1328.0,313.8 1332.0,312.8 1336.0,311.8 1340.0,310.8 1344.0,309.7 1348.0,308.7 1352.0,307.7 1356.0,306.8 1360.0,305.8 1364.0,304.9 1368.0,303.9 1372.0,303.0 1376.0,302.2 1380.0,301.3 1384.0,300.4 1388.0,299.5 1392.0,298.6 1396.0,297.7 1400.0,296.9 1404.0,296.0 1408.0,295.1 1412.0,294.3 1416.0,293.4 1420.0,292.5 1424.0,291.7 1428.0,290.8 1431.8,290.0" fill="none" stroke="#000000" stroke-width="1.3" stroke-linejoin="round" /><polyline points="4.0,552.5 22.0,546.0 40.3,539.3 55.2,534.0 63.3,530.9 68.0,528.0 74.4,525.3 80.7,523.5 88.2,522.5 93.5,521.1 99.9,519.5 106.2,516.8 112.6,515.0 119.0,513.7 127.5,512.4 136.0,509.7 142.4,506.7 148.7,503.6 155.1,500.9 160.0,498.8 171.6,493.1 193.2,482.3 214.8,473.0 229.9,467.1 250.0,460.7 255.1,459.3 272.4,456.0 288.0,451.8 294.2,451.2 300.1,448.3 305.9,445.1 311.8,441.3 317.7,436.4 323.5,431.6 329.4,426.7 335.3,421.6 341.1,416.5 347.0,411.5 352.9,406.8 358.7,403.0 364.6,398.8 370.5,394.7 376.3,390.2 382.2,385.6 388.1,381.5 393.9,378.4 399.8,375.7 405.7,372.7 411.5,369.1 417.4,365.1 423.3,361.6 429.1,358.3 435.0,355.2 440.9,352.6 446.7,350.2 452.6,348.1 458.5,345.9 464.3,344.0 470.2,341.7 476.1,339.5 481.9,338.1 487.8,335.2 493.7,332.1 499.5,329.8 505.4,328.3 511.3,326.5 517.1,324.2 523.0,321.9 528.9,319.0 534.7,316.3 540.6,313.7 546.5,312.3 552.3,310.4 558.2,308.7 564.0,307.8 569.9,306.9 575.8,306.2 581.6,305.1 587.5,304.1 593.4,303.3 599.2,302.7 605.1,302.9 611.0,303.5 616.8,303.2 622.7,303.9 628.6,304.7 634.4,305.7 640.3,306.9 646.2,309.5 652.0,311.7 657.9,313.6 663.8,315.4 669.6,318.5 675.5,321.8 681.4,325.4 687.2,328.3 693.1,330.8 699.0,333.6 704.8,337.5 710.7,341.1 716.6,344.7 722.4,348.7 728.3,353.0 734.2,357.4 740.0,361.4 745.9,364.6 751.8,367.3 757.6,370.1 763.5,373.2 769.4,375.8 775.2,377.5 781.1,380.7 787.0,383.7 792.8,386.1 798.7,387.2 804.6,388.2 810.4,389.3 816.3,390.7 822.2,392.4 828.0,393.9 833.9,396.1 839.8,397.4 845.6,399.1 851.5,400.7 857.3,401.7 863.2,402.4 869.1,403.4 874.9,404.0 880.8,404.5 886.7,405.2 892.5,405.5 898.4,404.5 904.3,403.5 910.1,403.0 916.0,401.0 921.9,399.2 927.7,397.9 933.6,396.4 939.5,393.3 945.3,390.8 951.2,388.8 957.1,386.2 962.9,382.4 968.8,378.0 974.7,373.8 980.5,369.8 986.4,366.7 992.3,363.4 998.1,359.2 1004.0,355.4 1009.9,351.9 1015.7,348.8 1021.6,345.9 1027.5,342.9 1033.3,340.1 1039.2,337.8 1045.1,336.0 1050.9,333.7 1056.8,331.2 1062.7,328.0 1068.5,325.3 1074.4,322.1 1080.3,318.8 1086.1,316.0 1092.0,313.7 1097.9,312.1 1103.7,310.5 1109.6,308.9 1115.5,307.1 1121.3,305.6 1127.2,303.5 1133.0,301.6 1138.9,299.9 1144.8,297.7 1150.6,295.6 1156.5,292.4 1162.4,289.0 1168.2,286.5 1174.1,283.7 1180.0,280.3 1185.8,277.2 1191.7,274.5 1197.6,271.8 1203.4,269.0 1209.3,267.0 1215.2,264.6 1221.0,261.7 1226.9,257.7 1232.8,254.5 1238.6,250.6 1244.5,248.5 1250.4,246.9 1256.2,245.7 1262.1,244.1 1268.0,241.9 1273.8,239.5 1279.7,236.7 1285.6,233.9 1291.4,231.0 1297.3,227.7 1303.2,225.0 1309.0,221.3 1314.9,216.9 1320.8,212.2 1326.6,207.9 1332.5,203.4 1338.4,199.0 1344.2,195.0 1350.1,191.1 1356.0,187.9 1361.8,184.7 1367.7,182.1 1373.6,179.1 1379.4,176.8 1385.3,175.1 1391.2,172.7 1397.0,170.5 1402.9,167.8 1408.8,165.1 1414.6,162.3 1420.5,159.7 1426.3,156.9 1432.2,153.6" fill="none" stroke="#2962ff" stroke-width="1.3" stroke-linejoin="round" /><polyline points="4.2,476.8 10.6,473.8 17.0,473.3 21.2,474.3 28.7,477.5 35.1,481.8 42.5,486.6 51.0,490.8 57.4,494.5 63.7,497.7 70.1,500.4 76.5,504.1 82.9,509.9 89.2,517.9 93.5,521.1 99.9,523.2 106.2,524.8 112.6,527.5 118.2,529.7 124.1,530.1 130.0,528.7 135.8,524.8 141.7,518.2 147.6,509.8 153.4,502.0 159.3,493.4 165.2,484.9 171.0,476.4 176.9,469.1 182.8,464.7 188.6,458.7 194.5,452.4 200.4,446.6 206.2,438.5 212.1,431.9 218.0,426.5 223.8,423.3 229.7,419.6 235.6,415.8 241.4,410.1 247.3,405.0 253.1,399.6 259.0,394.6 264.9,391.4 270.7,387.8 276.6,386.6 282.5,384.7 288.3,383.3 294.2,381.2 300.1,378.2 305.9,376.4 311.8,373.9 317.7,369.5 323.5,367.4 329.4,365.0 335.3,362.0 341.1,358.1 347.0,353.8 352.9,349.1 358.7,345.2 364.6,341.0 370.5,339.3 376.3,337.5 382.2,335.9 388.1,334.0 393.9,331.5 399.8,329.5 405.7,327.3 411.5,324.4 417.4,322.2 423.3,319.8 429.1,317.3 435.0,315.3 440.9,312.5 446.7,310.6 452.6,309.5 458.5,308.5 464.3,307.7 470.2,306.3 476.1,306.0 481.9,307.0 487.8,303.6 493.7,301.3 499.5,298.9 505.4,298.8 511.3,296.8 517.1,294.6 523.0,292.4 528.9,290.5 534.7,288.1 540.6,285.3 546.5,284.6 552.3,282.7 558.2,281.5 564.0,281.8 569.9,283.5 575.8,285.4 581.6,286.2 587.5,287.3 593.4,287.5 599.2,288.0 605.1,293.4 611.0,298.0 616.8,300.8 622.7,304.0 628.6,307.6 634.4,311.7 640.3,316.4 646.2,325.4 652.0,333.7 657.9,340.7 663.8,346.9 669.6,357.6 675.5,368.7 681.4,378.2 687.2,385.2 693.1,391.0 699.0,398.5 704.8,408.0 710.7,416.7 716.6,424.6 722.4,431.7 728.3,439.1 734.2,448.2 740.0,454.3 745.9,459.2 751.8,462.4 757.6,465.7 763.5,465.6 769.4,466.3 775.2,466.8 781.1,466.9 787.0,464.5 792.8,459.6 798.7,453.2 804.6,446.5 810.4,441.0 816.3,435.2 822.2,427.6 828.0,420.2 833.9,413.7 839.8,406.3 845.6,397.9 851.5,389.8 857.3,382.7 863.2,378.1 869.1,375.8 874.9,371.1 880.8,365.5 886.7,361.1 892.5,358.0 898.4,353.0 904.3,347.4 910.1,342.9 916.0,338.3 921.9,335.3 927.7,333.1 933.6,330.4 939.5,327.9 945.3,325.9 951.2,322.5 957.1,319.0 962.9,316.0 968.8,312.0 974.7,308.3 980.5,303.6 986.4,299.2 992.3,297.0 998.1,294.7 1004.0,292.2 1009.9,290.7 1015.7,292.3 1021.6,295.1 1027.5,298.1 1033.3,302.1 1039.2,305.6 1045.1,307.7 1050.9,309.1 1056.8,310.4 1062.7,309.3 1068.5,308.0 1074.4,306.5 1080.3,305.4 1086.1,304.5 1092.0,303.1 1097.9,302.3 1103.7,300.5 1109.6,299.0 1115.5,297.6 1121.3,295.5 1127.2,292.6 1133.0,288.5 1138.9,282.8 1144.8,276.6 1150.6,271.4 1156.5,264.6 1162.4,258.4 1168.2,253.1 1174.1,246.6 1180.0,241.8 1185.8,237.8 1191.7,234.0 1197.6,229.9 1203.4,225.6 1209.3,221.5 1215.2,216.4 1221.0,211.0 1226.9,202.3 1232.8,196.4 1238.6,188.4 1244.5,185.0 1250.4,182.1 1256.2,180.5 1262.1,177.9 1268.0,174.2 1273.8,171.3 1279.7,168.5 1285.6,165.4 1291.4,162.9 1297.3,160.8 1303.2,160.1 1309.0,159.2 1314.9,157.9 1320.8,156.1 1326.6,154.4 1332.5,152.5 1338.4,150.9 1344.2,152.6 1350.1,151.8 1356.0,152.6 1361.8,148.4 1367.7,144.4 1373.6,138.9 1379.4,136.2 1385.3,136.0 1391.2,135.2 1397.0,135.0 1402.9,133.8 1408.8,132.7 1414.6,131.8 1420.5,129.5 1426.3,127.5 1432.2,124.6" fill="none" stroke="#f23645" stroke-width="1.3" stroke-linejoin="round" /><g shape-rendering="crispEdges"><rect x="7" y="440" width="1" height="54" fill="#666666"/><rect x="5" y="444" width="5" height="50" fill="#5a0d08"/><rect x="6" y="445" width="3" height="48" fill="#e15a48"/><rect x="12" y="470" width="1" height="43" fill="#666666"/><rect x="10" y="492" width="5" height="21" fill="#5a0d08"/><rect x="11" y="493" width="3" height="19" fill="#e15a48"/><rect x="18" y="509" width="1" height="32" fill="#666666"/><rect x="16" y="512" width="5" height="26" fill="#5a0d08"/><rect x="17" y="513" width="3" height="24" fill="#e15a48"/><rect x="24" y="536" width="1" height="56" fill="#666666"/><rect x="22" y="536" width="5" height="48" fill="#5a0d08"/><rect x="23" y="537" width="3" height="46" fill="#e15a48"/><rect x="30" y="572" width="1" height="26" fill="#666666"/><rect x="28" y="585" width="5" height="11" fill="#5a0d08"/><rect x="29" y="586" width="3" height="9" fill="#e15a48"/><rect x="36" y="567" width="1" height="48" fill="#666666"/><rect x="34" y="576" width="5" height="20" fill="#0f4d1e"/><rect x="35" y="577" width="3" height="18" fill="#4caf50"/><rect x="42" y="560" width="1" height="36" fill="#666666"/><rect x="40" y="578" width="5" height="3" fill="#0f4d1e"/><rect x="41" y="579" width="3" height="1" fill="#4caf50"/><rect x="48" y="567" width="1" height="37" fill="#666666"/><rect x="46" y="575" width="5" height="4" fill="#0f4d1e"/><rect x="47" y="576" width="3" height="2" fill="#4caf50"/><rect x="54" y="546" width="1" height="32" fill="#666666"/><rect x="52" y="554" width="5" height="23" fill="#0f4d1e"/><rect x="53" y="555" width="3" height="21" fill="#4caf50"/><rect x="59" y="533" width="1" height="35" fill="#666666"/><rect x="57" y="544" width="5" height="14" fill="#0f4d1e"/><rect x="58" y="545" width="3" height="12" fill="#4caf50"/><rect x="65" y="496" width="1" height="56" fill="#666666"/><rect x="63" y="499" width="5" height="46" fill="#0f4d1e"/><rect x="64" y="500" width="3" height="44" fill="#4caf50"/><rect x="71" y="500" width="1" height="27" fill="#666666"/><rect x="69" y="505" width="5" height="4" fill="#5a0d08"/><rect x="70" y="506" width="3" height="2" fill="#e15a48"/><rect x="77" y="502" width="1" height="24" fill="#666666"/><rect x="75" y="510" width="5" height="14" fill="#5a0d08"/><rect x="76" y="511" width="3" height="12" fill="#e15a48"/><rect x="83" y="516" width="1" height="31" fill="#666666"/><rect x="81" y="523" width="5" height="17" fill="#5a0d08"/><rect x="82" y="524" width="3" height="15" fill="#e15a48"/><rect x="89" y="512" width="1" height="64" fill="#666666"/><rect x="87" y="541" width="5" height="19" fill="#5a0d08"/><rect x="88" y="542" width="3" height="17" fill="#e15a48"/><rect x="95" y="515" width="1" height="79" fill="#666666"/><rect x="93" y="516" width="5" height="47" fill="#0f4d1e"/><rect x="94" y="517" width="3" height="45" fill="#4caf50"/><rect x="100" y="478" width="1" height="50" fill="#666666"/><rect x="98" y="488" width="5" height="35" fill="#0f4d1e"/><rect x="99" y="489" width="3" height="33" fill="#4caf50"/><rect x="106" y="456" width="1" height="34" fill="#666666"/><rect x="104" y="462" width="5" height="28" fill="#0f4d1e"/><rect x="105" y="463" width="3" height="26" fill="#4caf50"/><rect x="112" y="458" width="1" height="31" fill="#666666"/><rect x="110" y="462" width="5" height="1" fill="#0f4d1e"/><rect x="118" y="447" width="1" height="46" fill="#666666"/><rect x="116" y="462" width="5" height="21" fill="#5a0d08"/><rect x="117" y="463" width="3" height="19" fill="#e15a48"/><rect x="124" y="472" width="1" height="34" fill="#666666"/><rect x="122" y="482" width="5" height="20" fill="#5a0d08"/><rect x="123" y="483" width="3" height="18" fill="#e15a48"/><rect x="130" y="480" width="1" height="27" fill="#666666"/><rect x="128" y="483" width="5" height="22" fill="#0f4d1e"/><rect x="129" y="484" width="3" height="20" fill="#4caf50"/><rect x="136" y="457" width="1" height="28" fill="#666666"/><rect x="134" y="460" width="5" height="24" fill="#0f4d1e"/><rect x="135" y="461" width="3" height="22" fill="#4caf50"/><rect x="142" y="450" width="1" height="20" fill="#666666"/><rect x="140" y="452" width="5" height="9" fill="#0f4d1e"/><rect x="141" y="453" width="3" height="7" fill="#4caf50"/><rect x="147" y="424" width="1" height="38" fill="#666666"/><rect x="145" y="426" width="5" height="28" fill="#0f4d1e"/><rect x="146" y="427" width="3" height="26" fill="#4caf50"/><rect x="153" y="418" width="1" height="17" fill="#666666"/><rect x="151" y="421" width="5" height="8" fill="#0f4d1e"/><rect x="152" y="422" width="3" height="6" fill="#4caf50"/><rect x="159" y="404" width="1" height="24" fill="#666666"/><rect x="157" y="406" width="5" height="19" fill="#0f4d1e"/><rect x="158" y="407" width="3" height="17" fill="#4caf50"/><rect x="165" y="398" width="1" height="19" fill="#666666"/><rect x="163" y="404" width="5" height="2" fill="#0f4d1e"/><rect x="171" y="384" width="1" height="28" fill="#666666"/><rect x="169" y="385" width="5" height="22" fill="#0f4d1e"/><rect x="170" y="386" width="3" height="20" fill="#4caf50"/><rect x="177" y="380" width="1" height="24" fill="#666666"/><rect x="175" y="388" width="5" height="11" fill="#5a0d08"/><rect x="176" y="389" width="3" height="9" fill="#e15a48"/><rect x="183" y="398" width="1" height="23" fill="#666666"/><rect x="181" y="400" width="5" height="11" fill="#5a0d08"/><rect x="182" y="401" width="3" height="9" fill="#e15a48"/><rect x="188" y="384" width="1" height="32" fill="#666666"/><rect x="186" y="389" width="5" height="24" fill="#0f4d1e"/><rect x="187" y="390" width="3" height="22" fill="#4caf50"/><rect x="194" y="384" width="1" height="23" fill="#666666"/><rect x="192" y="390" width="5" height="8" fill="#5a0d08"/><rect x="193" y="391" width="3" height="6" fill="#e15a48"/><rect x="200" y="397" width="1" height="34" fill="#666666"/><rect x="198" y="400" width="5" height="24" fill="#5a0d08"/><rect x="199" y="401" width="3" height="22" fill="#e15a48"/><rect x="206" y="395" width="1" height="35" fill="#666666"/><rect x="204" y="398" width="5" height="28" fill="#0f4d1e"/><rect x="205" y="399" width="3" height="26" fill="#4caf50"/><rect x="212" y="378" width="1" height="23" fill="#666666"/><rect x="210" y="383" width="5" height="18" fill="#0f4d1e"/><rect x="211" y="384" width="3" height="16" fill="#4caf50"/><rect x="218" y="375" width="1" height="12" fill="#666666"/><rect x="216" y="381" width="5" height="3" fill="#0f4d1e"/><rect x="217" y="382" width="3" height="1" fill="#4caf50"/><rect x="224" y="360" width="1" height="43" fill="#666666"/><rect x="222" y="381" width="5" height="16" fill="#5a0d08"/><rect x="223" y="382" width="3" height="14" fill="#e15a48"/><rect x="230" y="383" width="1" height="22" fill="#666666"/><rect x="228" y="388" width="5" height="9" fill="#0f4d1e"/><rect x="229" y="389" width="3" height="7" fill="#4caf50"/><rect x="235" y="388" width="1" height="23" fill="#666666"/><rect x="233" y="390" width="5" height="16" fill="#5a0d08"/><rect x="234" y="391" width="3" height="14" fill="#e15a48"/><rect x="241" y="387" width="1" height="47" fill="#666666"/><rect x="239" y="388" width="5" height="22" fill="#0f4d1e"/><rect x="240" y="389" width="3" height="20" fill="#4caf50"/><rect x="247" y="381" width="1" height="13" fill="#666666"/><rect x="245" y="382" width="5" height="12" fill="#0f4d1e"/><rect x="246" y="383" width="3" height="10" fill="#4caf50"/><rect x="253" y="349" width="1" height="38" fill="#666666"/><rect x="251" y="351" width="5" height="36" fill="#0f4d1e"/><rect x="252" y="352" width="3" height="34" fill="#4caf50"/><rect x="259" y="348" width="1" height="21" fill="#666666"/><rect x="257" y="352" width="5" height="3" fill="#0f4d1e"/><rect x="258" y="353" width="3" height="1" fill="#4caf50"/><rect x="265" y="347" width="1" height="21" fill="#666666"/><rect x="263" y="354" width="5" height="9" fill="#5a0d08"/><rect x="264" y="355" width="3" height="7" fill="#e15a48"/><rect x="271" y="347" width="1" height="32" fill="#666666"/><rect x="269" y="349" width="5" height="15" fill="#0f4d1e"/><rect x="270" y="350" width="3" height="13" fill="#4caf50"/><rect x="276" y="362" width="1" height="35" fill="#666666"/><rect x="274" y="369" width="5" height="12" fill="#5a0d08"/><rect x="275" y="370" width="3" height="10" fill="#e15a48"/><rect x="282" y="363" width="1" height="19" fill="#666666"/><rect x="280" y="367" width="5" height="15" fill="#0f4d1e"/><rect x="281" y="368" width="3" height="13" fill="#4caf50"/><rect x="288" y="350" width="1" height="19" fill="#666666"/><rect x="286" y="357" width="5" height="12" fill="#0f4d1e"/><rect x="287" y="358" width="3" height="10" fill="#4caf50"/><rect x="294" y="355" width="1" height="14" fill="#666666"/><rect x="292" y="357" width="5" height="4" fill="#0f4d1e"/><rect x="293" y="358" width="3" height="2" fill="#4caf50"/><rect x="300" y="345" width="1" height="16" fill="#666666"/><rect x="298" y="348" width="5" height="10" fill="#0f4d1e"/><rect x="299" y="349" width="3" height="8" fill="#4caf50"/><rect x="306" y="347" width="1" height="8" fill="#666666"/><rect x="304" y="351" width="5" height="4" fill="#5a0d08"/><rect x="305" y="352" width="3" height="2" fill="#e15a48"/><rect x="312" y="346" width="1" height="9" fill="#666666"/><rect x="310" y="347" width="5" height="9" fill="#0f4d1e"/><rect x="311" y="348" width="3" height="7" fill="#4caf50"/><rect x="318" y="335" width="1" height="21" fill="#666666"/><rect x="316" y="335" width="5" height="14" fill="#0f4d1e"/><rect x="317" y="336" width="3" height="12" fill="#4caf50"/><rect x="323" y="332" width="1" height="29" fill="#666666"/><rect x="321" y="340" width="5" height="16" fill="#5a0d08"/><rect x="322" y="341" width="3" height="14" fill="#e15a48"/><rect x="329" y="333" width="1" height="23" fill="#666666"/><rect x="327" y="335" width="5" height="21" fill="#0f4d1e"/><rect x="328" y="336" width="3" height="19" fill="#4caf50"/><rect x="335" y="320" width="1" height="19" fill="#666666"/><rect x="333" y="322" width="5" height="17" fill="#0f4d1e"/><rect x="334" y="323" width="3" height="15" fill="#4caf50"/><rect x="341" y="314" width="1" height="12" fill="#666666"/><rect x="339" y="317" width="5" height="6" fill="#0f4d1e"/><rect x="340" y="318" width="3" height="4" fill="#4caf50"/><rect x="347" y="301" width="1" height="21" fill="#666666"/><rect x="345" y="303" width="5" height="17" fill="#0f4d1e"/><rect x="346" y="304" width="3" height="15" fill="#4caf50"/><rect x="353" y="304" width="1" height="11" fill="#666666"/><rect x="351" y="308" width="5" height="4" fill="#5a0d08"/><rect x="352" y="309" width="3" height="2" fill="#e15a48"/><rect x="359" y="308" width="1" height="23" fill="#666666"/><rect x="357" y="310" width="5" height="4" fill="#0f4d1e"/><rect x="358" y="311" width="3" height="2" fill="#4caf50"/><rect x="364" y="297" width="1" height="12" fill="#666666"/><rect x="362" y="297" width="5" height="7" fill="#0f4d1e"/><rect x="363" y="298" width="3" height="5" fill="#4caf50"/><rect x="370" y="290" width="1" height="73" fill="#666666"/><rect x="368" y="297" width="5" height="21" fill="#5a0d08"/><rect x="369" y="298" width="3" height="19" fill="#e15a48"/><rect x="376" y="311" width="1" height="14" fill="#666666"/><rect x="374" y="316" width="5" height="5" fill="#0f4d1e"/><rect x="375" y="317" width="3" height="3" fill="#4caf50"/><rect x="382" y="316" width="1" height="21" fill="#666666"/><rect x="380" y="316" width="5" height="16" fill="#5a0d08"/><rect x="381" y="317" width="3" height="14" fill="#e15a48"/><rect x="388" y="305" width="1" height="29" fill="#666666"/><rect x="386" y="311" width="5" height="23" fill="#0f4d1e"/><rect x="387" y="312" width="3" height="21" fill="#4caf50"/><rect x="394" y="312" width="1" height="21" fill="#666666"/><rect x="392" y="317" width="5" height="15" fill="#5a0d08"/><rect x="393" y="318" width="3" height="13" fill="#e15a48"/><rect x="400" y="316" width="1" height="24" fill="#666666"/><rect x="398" y="326" width="5" height="7" fill="#0f4d1e"/><rect x="399" y="327" width="3" height="5" fill="#4caf50"/><rect x="406" y="311" width="1" height="22" fill="#666666"/><rect x="404" y="314" width="5" height="13" fill="#0f4d1e"/><rect x="405" y="315" width="3" height="11" fill="#4caf50"/><rect x="411" y="298" width="1" height="21" fill="#666666"/><rect x="409" y="298" width="5" height="19" fill="#0f4d1e"/><rect x="410" y="299" width="3" height="17" fill="#4caf50"/><rect x="417" y="298" width="1" height="9" fill="#666666"/><rect x="415" y="299" width="5" height="6" fill="#5a0d08"/><rect x="416" y="300" width="3" height="4" fill="#e15a48"/><rect x="423" y="299" width="1" height="12" fill="#666666"/><rect x="421" y="306" width="5" height="5" fill="#0f4d1e"/><rect x="422" y="307" width="3" height="3" fill="#4caf50"/><rect x="429" y="297" width="1" height="29" fill="#666666"/><rect x="427" y="298" width="5" height="9" fill="#0f4d1e"/><rect x="428" y="299" width="3" height="7" fill="#4caf50"/><rect x="435" y="294" width="1" height="13" fill="#666666"/><rect x="433" y="295" width="5" height="4" fill="#0f4d1e"/><rect x="434" y="296" width="3" height="2" fill="#4caf50"/><rect x="441" y="294" width="1" height="8" fill="#666666"/><rect x="439" y="297" width="5" height="3" fill="#5a0d08"/><rect x="440" y="298" width="3" height="1" fill="#e15a48"/><rect x="447" y="294" width="1" height="9" fill="#666666"/><rect x="445" y="297" width="5" height="5" fill="#0f4d1e"/><rect x="446" y="298" width="3" height="3" fill="#4caf50"/><rect x="452" y="294" width="1" height="11" fill="#666666"/><rect x="450" y="298" width="5" height="4" fill="#5a0d08"/><rect x="451" y="299" width="3" height="2" fill="#e15a48"/><rect x="458" y="296" width="1" height="15" fill="#666666"/><rect x="456" y="296" width="5" height="7" fill="#0f4d1e"/><rect x="457" y="297" width="3" height="5" fill="#4caf50"/><rect x="464" y="286" width="1" height="13" fill="#666666"/><rect x="462" y="288" width="5" height="11" fill="#0f4d1e"/><rect x="463" y="289" width="3" height="9" fill="#4caf50"/><rect x="470" y="274" width="1" height="24" fill="#666666"/><rect x="468" y="283" width="5" height="8" fill="#0f4d1e"/><rect x="469" y="284" width="3" height="6" fill="#4caf50"/><rect x="476" y="283" width="1" height="24" fill="#666666"/><rect x="474" y="284" width="5" height="20" fill="#5a0d08"/><rect x="475" y="285" width="3" height="18" fill="#e15a48"/><rect x="482" y="297" width="1" height="27" fill="#666666"/><rect x="480" y="307" width="5" height="11" fill="#5a0d08"/><rect x="481" y="308" width="3" height="9" fill="#e15a48"/><rect x="488" y="250" width="1" height="69" fill="#666666"/><rect x="486" y="251" width="5" height="68" fill="#0f4d1e"/><rect x="487" y="252" width="3" height="66" fill="#4caf50"/><rect x="494" y="251" width="1" height="26" fill="#666666"/><rect x="492" y="255" width="5" height="15" fill="#5a0d08"/><rect x="493" y="256" width="3" height="13" fill="#e15a48"/><rect x="499" y="270" width="1" height="27" fill="#666666"/><rect x="497" y="271" width="5" height="12" fill="#5a0d08"/><rect x="498" y="272" width="3" height="10" fill="#e15a48"/><rect x="505" y="281" width="1" height="33" fill="#666666"/><rect x="503" y="283" width="5" height="27" fill="#5a0d08"/><rect x="504" y="284" width="3" height="25" fill="#e15a48"/><rect x="511" y="291" width="1" height="21" fill="#666666"/><rect x="509" y="292" width="5" height="20" fill="#0f4d1e"/><rect x="510" y="293" width="3" height="18" fill="#4caf50"/><rect x="517" y="276" width="1" height="19" fill="#666666"/><rect x="515" y="283" width="5" height="11" fill="#0f4d1e"/><rect x="516" y="284" width="3" height="9" fill="#4caf50"/><rect x="523" y="267" width="1" height="20" fill="#666666"/><rect x="521" y="269" width="5" height="18" fill="#0f4d1e"/><rect x="522" y="270" width="3" height="16" fill="#4caf50"/><rect x="529" y="259" width="1" height="15" fill="#666666"/><rect x="527" y="260" width="5" height="13" fill="#0f4d1e"/><rect x="528" y="261" width="3" height="11" fill="#4caf50"/><rect x="535" y="253" width="1" height="10" fill="#666666"/><rect x="533" y="255" width="5" height="7" fill="#0f4d1e"/><rect x="534" y="256" width="3" height="5" fill="#4caf50"/><rect x="540" y="245" width="1" height="18" fill="#666666"/><rect x="538" y="250" width="5" height="10" fill="#0f4d1e"/><rect x="539" y="251" width="3" height="8" fill="#4caf50"/><rect x="546" y="248" width="1" height="42" fill="#666666"/><rect x="544" y="251" width="5" height="34" fill="#5a0d08"/><rect x="545" y="252" width="3" height="32" fill="#e15a48"/><rect x="552" y="258" width="1" height="34" fill="#666666"/><rect x="550" y="258" width="5" height="27" fill="#0f4d1e"/><rect x="551" y="259" width="3" height="25" fill="#4caf50"/><rect x="558" y="257" width="1" height="28" fill="#666666"/><rect x="556" y="261" width="5" height="15" fill="#5a0d08"/><rect x="557" y="262" width="3" height="13" fill="#e15a48"/><rect x="564" y="274" width="1" height="39" fill="#666666"/><rect x="562" y="280" width="5" height="24" fill="#5a0d08"/><rect x="563" y="281" width="3" height="22" fill="#e15a48"/><rect x="570" y="294" width="1" height="46" fill="#666666"/><rect x="568" y="304" width="5" height="31" fill="#5a0d08"/><rect x="569" y="305" width="3" height="29" fill="#e15a48"/><rect x="576" y="329" width="1" height="36" fill="#666666"/><rect x="574" y="334" width="5" height="4" fill="#0f4d1e"/><rect x="575" y="335" width="3" height="2" fill="#4caf50"/><rect x="582" y="300" width="1" height="43" fill="#666666"/><rect x="580" y="305" width="5" height="33" fill="#0f4d1e"/><rect x="581" y="306" width="3" height="31" fill="#4caf50"/><rect x="587" y="301" width="1" height="21" fill="#666666"/><rect x="585" y="304" width="5" height="3" fill="#0f4d1e"/><rect x="586" y="305" width="3" height="1" fill="#4caf50"/><rect x="593" y="301" width="1" height="13" fill="#666666"/><rect x="591" y="306" width="5" height="3" fill="#5a0d08"/><rect x="592" y="307" width="3" height="1" fill="#e15a48"/><rect x="599" y="305" width="1" height="25" fill="#666666"/><rect x="597" y="308" width="5" height="20" fill="#5a0d08"/><rect x="598" y="309" width="3" height="18" fill="#e15a48"/><rect x="605" y="323" width="1" height="38" fill="#666666"/><rect x="603" y="330" width="5" height="28" fill="#5a0d08"/><rect x="604" y="331" width="3" height="26" fill="#e15a48"/><rect x="611" y="346" width="1" height="30" fill="#666666"/><rect x="609" y="359" width="5" height="5" fill="#5a0d08"/><rect x="610" y="360" width="3" height="3" fill="#e15a48"/><rect x="617" y="331" width="1" height="42" fill="#666666"/><rect x="615" y="338" width="5" height="29" fill="#0f4d1e"/><rect x="616" y="339" width="3" height="27" fill="#4caf50"/><rect x="623" y="335" width="1" height="42" fill="#666666"/><rect x="621" y="340" width="5" height="34" fill="#5a0d08"/><rect x="622" y="341" width="3" height="32" fill="#e15a48"/><rect x="628" y="359" width="1" height="29" fill="#666666"/><rect x="626" y="364" width="5" height="14" fill="#0f4d1e"/><rect x="627" y="365" width="3" height="12" fill="#4caf50"/><rect x="634" y="359" width="1" height="20" fill="#666666"/><rect x="632" y="365" width="5" height="2" fill="#0f4d1e"/><rect x="640" y="356" width="1" height="16" fill="#666666"/><rect x="638" y="362" width="5" height="5" fill="#0f4d1e"/><rect x="639" y="363" width="3" height="3" fill="#4caf50"/><rect x="646" y="362" width="1" height="143" fill="#666666"/><rect x="644" y="364" width="5" height="78" fill="#5a0d08"/><rect x="645" y="365" width="3" height="76" fill="#e15a48"/><rect x="652" y="414" width="1" height="69" fill="#666666"/><rect x="650" y="420" width="5" height="24" fill="#0f4d1e"/><rect x="651" y="421" width="3" height="22" fill="#4caf50"/><rect x="658" y="379" width="1" height="45" fill="#666666"/><rect x="656" y="390" width="5" height="34" fill="#0f4d1e"/><rect x="657" y="391" width="3" height="32" fill="#4caf50"/><rect x="664" y="390" width="1" height="36" fill="#666666"/><rect x="662" y="393" width="5" height="16" fill="#5a0d08"/><rect x="663" y="394" width="3" height="14" fill="#e15a48"/><rect x="669" y="394" width="1" height="85" fill="#666666"/><rect x="667" y="408" width="5" height="65" fill="#5a0d08"/><rect x="668" y="409" width="3" height="63" fill="#e15a48"/><rect x="675" y="472" width="1" height="50" fill="#666666"/><rect x="673" y="476" width="5" height="23" fill="#5a0d08"/><rect x="674" y="477" width="3" height="21" fill="#e15a48"/><rect x="681" y="482" width="1" height="26" fill="#666666"/><rect x="679" y="491" width="5" height="9" fill="#0f4d1e"/><rect x="680" y="492" width="3" height="7" fill="#4caf50"/><rect x="687" y="466" width="1" height="29" fill="#666666"/><rect x="685" y="475" width="5" height="20" fill="#0f4d1e"/><rect x="686" y="476" width="3" height="18" fill="#4caf50"/><rect x="693" y="421" width="1" height="68" fill="#666666"/><rect x="691" y="449" width="5" height="30" fill="#0f4d1e"/><rect x="692" y="450" width="3" height="28" fill="#4caf50"/><rect x="699" y="442" width="1" height="21" fill="#666666"/><rect x="697" y="453" width="5" height="4" fill="#5a0d08"/><rect x="698" y="454" width="3" height="2" fill="#e15a48"/><rect x="705" y="456" width="1" height="38" fill="#666666"/><rect x="703" y="459" width="5" height="34" fill="#5a0d08"/><rect x="704" y="460" width="3" height="32" fill="#e15a48"/><rect x="711" y="478" width="1" height="21" fill="#666666"/><rect x="709" y="483" width="5" height="12" fill="#0f4d1e"/><rect x="710" y="484" width="3" height="10" fill="#4caf50"/><rect x="716" y="479" width="1" height="14" fill="#666666"/><rect x="714" y="486" width="5" height="4" fill="#0f4d1e"/><rect x="715" y="487" width="3" height="2" fill="#4caf50"/><rect x="722" y="473" width="1" height="33" fill="#666666"/><rect x="720" y="486" width="5" height="14" fill="#5a0d08"/><rect x="721" y="487" width="3" height="12" fill="#e15a48"/><rect x="728" y="502" width="1" height="37" fill="#666666"/><rect x="726" y="503" width="5" height="8" fill="#5a0d08"/><rect x="727" y="504" width="3" height="6" fill="#e15a48"/><rect x="734" y="497" width="1" height="28" fill="#666666"/><rect x="732" y="512" width="5" height="8" fill="#5a0d08"/><rect x="733" y="513" width="3" height="6" fill="#e15a48"/><rect x="740" y="490" width="1" height="35" fill="#666666"/><rect x="738" y="495" width="5" height="30" fill="#0f4d1e"/><rect x="739" y="496" width="3" height="28" fill="#4caf50"/><rect x="746" y="451" width="1" height="50" fill="#666666"/><rect x="744" y="463" width="5" height="38" fill="#0f4d1e"/><rect x="745" y="464" width="3" height="36" fill="#4caf50"/><rect x="752" y="423" width="1" height="51" fill="#666666"/><rect x="750" y="429" width="5" height="38" fill="#0f4d1e"/><rect x="751" y="430" width="3" height="36" fill="#4caf50"/><rect x="757" y="395" width="1" height="55" fill="#666666"/><rect x="755" y="429" width="5" height="3" fill="#0f4d1e"/><rect x="756" y="430" width="3" height="1" fill="#4caf50"/><rect x="763" y="421" width="1" height="32" fill="#666666"/><rect x="761" y="433" width="5" height="7" fill="#5a0d08"/><rect x="762" y="434" width="3" height="5" fill="#e15a48"/><rect x="769" y="429" width="1" height="30" fill="#666666"/><rect x="767" y="433" width="5" height="8" fill="#0f4d1e"/><rect x="768" y="434" width="3" height="6" fill="#4caf50"/><rect x="775" y="398" width="1" height="38" fill="#666666"/><rect x="773" y="400" width="5" height="36" fill="#0f4d1e"/><rect x="774" y="401" width="3" height="34" fill="#4caf50"/><rect x="781" y="384" width="1" height="36" fill="#666666"/><rect x="779" y="404" width="5" height="9" fill="#5a0d08"/><rect x="780" y="405" width="3" height="7" fill="#e15a48"/><rect x="787" y="405" width="1" height="31" fill="#666666"/><rect x="785" y="413" width="5" height="10" fill="#5a0d08"/><rect x="786" y="414" width="3" height="8" fill="#e15a48"/><rect x="793" y="396" width="1" height="28" fill="#666666"/><rect x="791" y="400" width="5" height="24" fill="#0f4d1e"/><rect x="792" y="401" width="3" height="22" fill="#4caf50"/><rect x="799" y="361" width="1" height="44" fill="#666666"/><rect x="797" y="365" width="5" height="39" fill="#0f4d1e"/><rect x="798" y="366" width="3" height="37" fill="#4caf50"/><rect x="804" y="330" width="1" height="38" fill="#666666"/><rect x="802" y="340" width="5" height="26" fill="#0f4d1e"/><rect x="803" y="341" width="3" height="24" fill="#4caf50"/><rect x="810" y="335" width="1" height="18" fill="#666666"/><rect x="808" y="340" width="5" height="3" fill="#0f4d1e"/><rect x="809" y="341" width="3" height="1" fill="#4caf50"/><rect x="816" y="324" width="1" height="24" fill="#666666"/><rect x="814" y="340" width="5" height="3" fill="#0f4d1e"/><rect x="815" y="341" width="3" height="1" fill="#4caf50"/><rect x="822" y="335" width="1" height="19" fill="#666666"/><rect x="820" y="339" width="5" height="3" fill="#5a0d08"/><rect x="821" y="340" width="3" height="1" fill="#e15a48"/><rect x="828" y="326" width="1" height="44" fill="#666666"/><rect x="826" y="335" width="5" height="11" fill="#0f4d1e"/><rect x="827" y="336" width="3" height="9" fill="#4caf50"/><rect x="834" y="334" width="1" height="44" fill="#666666"/><rect x="832" y="337" width="5" height="20" fill="#5a0d08"/><rect x="833" y="338" width="3" height="18" fill="#e15a48"/><rect x="840" y="345" width="1" height="21" fill="#666666"/><rect x="838" y="352" width="5" height="8" fill="#0f4d1e"/><rect x="839" y="353" width="3" height="6" fill="#4caf50"/><rect x="845" y="339" width="1" height="20" fill="#666666"/><rect x="843" y="341" width="5" height="16" fill="#0f4d1e"/><rect x="844" y="342" width="3" height="14" fill="#4caf50"/><rect x="851" y="335" width="1" height="28" fill="#666666"/><rect x="849" y="342" width="5" height="16" fill="#5a0d08"/><rect x="850" y="343" width="3" height="14" fill="#e15a48"/><rect x="857" y="346" width="1" height="21" fill="#666666"/><rect x="855" y="354" width="5" height="8" fill="#0f4d1e"/><rect x="856" y="355" width="3" height="6" fill="#4caf50"/><rect x="863" y="347" width="1" height="47" fill="#666666"/><rect x="861" y="356" width="5" height="15" fill="#5a0d08"/><rect x="862" y="357" width="3" height="13" fill="#e15a48"/><rect x="869" y="366" width="1" height="31" fill="#666666"/><rect x="867" y="373" width="5" height="12" fill="#5a0d08"/><rect x="868" y="374" width="3" height="10" fill="#e15a48"/><rect x="875" y="329" width="1" height="59" fill="#666666"/><rect x="873" y="334" width="5" height="51" fill="#0f4d1e"/><rect x="874" y="335" width="3" height="49" fill="#4caf50"/><rect x="881" y="321" width="1" height="16" fill="#666666"/><rect x="879" y="327" width="5" height="9" fill="#0f4d1e"/><rect x="880" y="328" width="3" height="7" fill="#4caf50"/><rect x="887" y="324" width="1" height="24" fill="#666666"/><rect x="885" y="328" width="5" height="18" fill="#5a0d08"/><rect x="886" y="329" width="3" height="16" fill="#e15a48"/><rect x="892" y="337" width="1" height="16" fill="#666666"/><rect x="890" y="339" width="5" height="9" fill="#0f4d1e"/><rect x="891" y="340" width="3" height="7" fill="#4caf50"/><rect x="898" y="307" width="1" height="39" fill="#666666"/><rect x="896" y="311" width="5" height="32" fill="#0f4d1e"/><rect x="897" y="312" width="3" height="30" fill="#4caf50"/><rect x="904" y="304" width="1" height="15" fill="#666666"/><rect x="902" y="311" width="5" height="2" fill="#0f4d1e"/><rect x="910" y="307" width="1" height="14" fill="#666666"/><rect x="908" y="310" width="5" height="4" fill="#0f4d1e"/><rect x="909" y="311" width="3" height="2" fill="#4caf50"/><rect x="916" y="271" width="1" height="42" fill="#666666"/><rect x="914" y="273" width="5" height="39" fill="#0f4d1e"/><rect x="915" y="274" width="3" height="37" fill="#4caf50"/><rect x="922" y="274" width="1" height="11" fill="#666666"/><rect x="920" y="274" width="5" height="6" fill="#5a0d08"/><rect x="921" y="275" width="3" height="4" fill="#e15a48"/><rect x="928" y="280" width="1" height="26" fill="#666666"/><rect x="926" y="281" width="5" height="15" fill="#5a0d08"/><rect x="927" y="282" width="3" height="13" fill="#e15a48"/><rect x="933" y="277" width="1" height="20" fill="#666666"/><rect x="931" y="288" width="5" height="8" fill="#0f4d1e"/><rect x="932" y="289" width="3" height="6" fill="#4caf50"/><rect x="939" y="287" width="1" height="9" fill="#666666"/><rect x="937" y="290" width="5" height="3" fill="#0f4d1e"/><rect x="938" y="291" width="3" height="1" fill="#4caf50"/><rect x="945" y="282" width="1" height="19" fill="#666666"/><rect x="943" y="290" width="5" height="5" fill="#5a0d08"/><rect x="944" y="291" width="3" height="3" fill="#e15a48"/><rect x="951" y="284" width="1" height="13" fill="#666666"/><rect x="949" y="289" width="5" height="6" fill="#0f4d1e"/><rect x="950" y="290" width="3" height="4" fill="#4caf50"/><rect x="957" y="276" width="1" height="16" fill="#666666"/><rect x="955" y="281" width="5" height="9" fill="#0f4d1e"/><rect x="956" y="282" width="3" height="7" fill="#4caf50"/><rect x="963" y="274" width="1" height="12" fill="#666666"/><rect x="961" y="280" width="5" height="2" fill="#5a0d08"/><rect x="969" y="272" width="1" height="14" fill="#666666"/><rect x="967" y="276" width="5" height="6" fill="#0f4d1e"/><rect x="968" y="277" width="3" height="4" fill="#4caf50"/><rect x="975" y="275" width="1" height="17" fill="#666666"/><rect x="973" y="276" width="5" height="6" fill="#5a0d08"/><rect x="974" y="277" width="3" height="4" fill="#e15a48"/><rect x="980" y="272" width="1" height="12" fill="#666666"/><rect x="978" y="276" width="5" height="6" fill="#0f4d1e"/><rect x="979" y="277" width="3" height="4" fill="#4caf50"/><rect x="986" y="276" width="1" height="38" fill="#666666"/><rect x="984" y="276" width="5" height="21" fill="#5a0d08"/><rect x="985" y="277" width="3" height="19" fill="#e15a48"/><rect x="992" y="275" width="1" height="22" fill="#666666"/><rect x="990" y="290" width="5" height="7" fill="#0f4d1e"/><rect x="991" y="291" width="3" height="5" fill="#4caf50"/><rect x="998" y="279" width="1" height="19" fill="#666666"/><rect x="996" y="280" width="5" height="16" fill="#0f4d1e"/><rect x="997" y="281" width="3" height="14" fill="#4caf50"/><rect x="1004" y="280" width="1" height="21" fill="#666666"/><rect x="1002" y="281" width="5" height="16" fill="#5a0d08"/><rect x="1003" y="282" width="3" height="14" fill="#e15a48"/><rect x="1010" y="290" width="1" height="26" fill="#666666"/><rect x="1008" y="296" width="5" height="14" fill="#5a0d08"/><rect x="1009" y="297" width="3" height="12" fill="#e15a48"/><rect x="1016" y="307" width="1" height="47" fill="#666666"/><rect x="1014" y="310" width="5" height="33" fill="#5a0d08"/><rect x="1015" y="311" width="3" height="31" fill="#e15a48"/><rect x="1021" y="341" width="1" height="41" fill="#666666"/><rect x="1019" y="342" width="5" height="27" fill="#5a0d08"/><rect x="1020" y="343" width="3" height="25" fill="#e15a48"/><rect x="1027" y="365" width="1" height="17" fill="#666666"/><rect x="1025" y="369" width="5" height="2" fill="#5a0d08"/><rect x="1033" y="340" width="1" height="38" fill="#666666"/><rect x="1031" y="352" width="5" height="23" fill="#0f4d1e"/><rect x="1032" y="353" width="3" height="21" fill="#4caf50"/><rect x="1039" y="343" width="1" height="20" fill="#666666"/><rect x="1037" y="350" width="5" height="4" fill="#0f4d1e"/><rect x="1038" y="351" width="3" height="2" fill="#4caf50"/><rect x="1045" y="335" width="1" height="23" fill="#666666"/><rect x="1043" y="336" width="5" height="20" fill="#0f4d1e"/><rect x="1044" y="337" width="3" height="18" fill="#4caf50"/><rect x="1051" y="315" width="1" height="28" fill="#666666"/><rect x="1049" y="317" width="5" height="20" fill="#0f4d1e"/><rect x="1050" y="318" width="3" height="18" fill="#4caf50"/><rect x="1057" y="310" width="1" height="11" fill="#666666"/><rect x="1055" y="315" width="5" height="6" fill="#0f4d1e"/><rect x="1056" y="316" width="3" height="4" fill="#4caf50"/><rect x="1063" y="269" width="1" height="50" fill="#666666"/><rect x="1061" y="272" width="5" height="46" fill="#0f4d1e"/><rect x="1062" y="273" width="3" height="44" fill="#4caf50"/><rect x="1068" y="248" width="1" height="26" fill="#666666"/><rect x="1066" y="262" width="5" height="12" fill="#0f4d1e"/><rect x="1067" y="263" width="3" height="10" fill="#4caf50"/><rect x="1074" y="249" width="1" height="38" fill="#666666"/><rect x="1072" y="252" width="5" height="11" fill="#0f4d1e"/><rect x="1073" y="253" width="3" height="9" fill="#4caf50"/><rect x="1080" y="247" width="1" height="21" fill="#666666"/><rect x="1078" y="254" width="5" height="5" fill="#5a0d08"/><rect x="1079" y="255" width="3" height="3" fill="#e15a48"/><rect x="1086" y="255" width="1" height="12" fill="#666666"/><rect x="1084" y="258" width="5" height="5" fill="#0f4d1e"/><rect x="1085" y="259" width="3" height="3" fill="#4caf50"/><rect x="1092" y="253" width="1" height="10" fill="#666666"/><rect x="1090" y="254" width="5" height="5" fill="#0f4d1e"/><rect x="1091" y="255" width="3" height="3" fill="#4caf50"/><rect x="1098" y="244" width="1" height="24" fill="#666666"/><rect x="1096" y="255" width="5" height="6" fill="#5a0d08"/><rect x="1097" y="256" width="3" height="4" fill="#e15a48"/><rect x="1104" y="255" width="1" height="10" fill="#666666"/><rect x="1102" y="259" width="5" height="4" fill="#0f4d1e"/><rect x="1103" y="260" width="3" height="2" fill="#4caf50"/><rect x="1109" y="256" width="1" height="8" fill="#666666"/><rect x="1107" y="259" width="5" height="2" fill="#5a0d08"/><rect x="1115" y="249" width="1" height="15" fill="#666666"/><rect x="1113" y="252" width="5" height="12" fill="#0f4d1e"/><rect x="1114" y="253" width="3" height="10" fill="#4caf50"/><rect x="1121" y="248" width="1" height="9" fill="#666666"/><rect x="1119" y="253" width="5" height="3" fill="#5a0d08"/><rect x="1120" y="254" width="3" height="1" fill="#e15a48"/><rect x="1127" y="245" width="1" height="12" fill="#666666"/><rect x="1125" y="251" width="5" height="5" fill="#0f4d1e"/><rect x="1126" y="252" width="3" height="3" fill="#4caf50"/><rect x="1133" y="249" width="1" height="16" fill="#666666"/><rect x="1131" y="253" width="5" height="8" fill="#5a0d08"/><rect x="1132" y="254" width="3" height="6" fill="#e15a48"/><rect x="1139" y="249" width="1" height="24" fill="#666666"/><rect x="1137" y="253" width="5" height="9" fill="#0f4d1e"/><rect x="1138" y="254" width="3" height="7" fill="#4caf50"/><rect x="1145" y="245" width="1" height="10" fill="#666666"/><rect x="1143" y="247" width="5" height="8" fill="#0f4d1e"/><rect x="1144" y="248" width="3" height="6" fill="#4caf50"/><rect x="1151" y="245" width="1" height="9" fill="#666666"/><rect x="1149" y="249" width="5" height="1" fill="#0f4d1e"/><rect x="1156" y="212" width="1" height="40" fill="#666666"/><rect x="1154" y="214" width="5" height="38" fill="#0f4d1e"/><rect x="1155" y="215" width="3" height="36" fill="#4caf50"/><rect x="1162" y="210" width="1" height="14" fill="#666666"/><rect x="1160" y="211" width="5" height="6" fill="#0f4d1e"/><rect x="1161" y="212" width="3" height="4" fill="#4caf50"/><rect x="1168" y="207" width="1" height="21" fill="#666666"/><rect x="1166" y="211" width="5" height="2" fill="#0f4d1e"/><rect x="1174" y="182" width="1" height="38" fill="#666666"/><rect x="1172" y="186" width="5" height="33" fill="#0f4d1e"/><rect x="1173" y="187" width="3" height="31" fill="#4caf50"/><rect x="1180" y="173" width="1" height="22" fill="#666666"/><rect x="1178" y="175" width="5" height="12" fill="#0f4d1e"/><rect x="1179" y="176" width="3" height="10" fill="#4caf50"/><rect x="1186" y="174" width="1" height="15" fill="#666666"/><rect x="1184" y="177" width="5" height="7" fill="#5a0d08"/><rect x="1185" y="178" width="3" height="5" fill="#e15a48"/><rect x="1192" y="175" width="1" height="19" fill="#666666"/><rect x="1190" y="176" width="5" height="11" fill="#0f4d1e"/><rect x="1191" y="177" width="3" height="9" fill="#4caf50"/><rect x="1197" y="175" width="1" height="28" fill="#666666"/><rect x="1195" y="176" width="5" height="2" fill="#0f4d1e"/><rect x="1203" y="170" width="1" height="14" fill="#666666"/><rect x="1201" y="172" width="5" height="8" fill="#0f4d1e"/><rect x="1202" y="173" width="3" height="6" fill="#4caf50"/><rect x="1209" y="170" width="1" height="9" fill="#666666"/><rect x="1207" y="172" width="5" height="1" fill="#0f4d1e"/><rect x="1215" y="158" width="1" height="17" fill="#666666"/><rect x="1213" y="159" width="5" height="16" fill="#0f4d1e"/><rect x="1214" y="160" width="3" height="14" fill="#4caf50"/><rect x="1221" y="149" width="1" height="13" fill="#666666"/><rect x="1219" y="151" width="5" height="10" fill="#0f4d1e"/><rect x="1220" y="152" width="3" height="8" fill="#4caf50"/><rect x="1227" y="81" width="1" height="87" fill="#666666"/><rect x="1225" y="85" width="5" height="69" fill="#0f4d1e"/><rect x="1226" y="86" width="3" height="67" fill="#4caf50"/><rect x="1233" y="36" width="1" height="144" fill="#666666"/><rect x="1231" y="97" width="5" height="38" fill="#5a0d08"/><rect x="1232" y="98" width="3" height="36" fill="#e15a48"/><rect x="1239" y="96" width="1" height="45" fill="#666666"/><rect x="1237" y="97" width="5" height="39" fill="#0f4d1e"/><rect x="1238" y="98" width="3" height="37" fill="#4caf50"/><rect x="1244" y="92" width="1" height="126" fill="#666666"/><rect x="1242" y="97" width="5" height="87" fill="#5a0d08"/><rect x="1243" y="98" width="3" height="85" fill="#e15a48"/><rect x="1250" y="135" width="1" height="82" fill="#666666"/><rect x="1248" y="182" width="5" height="21" fill="#5a0d08"/><rect x="1249" y="183" width="3" height="19" fill="#e15a48"/><rect x="1256" y="199" width="1" height="48" fill="#666666"/><rect x="1254" y="203" width="5" height="19" fill="#5a0d08"/><rect x="1255" y="204" width="3" height="17" fill="#e15a48"/><rect x="1262" y="193" width="1" height="31" fill="#666666"/><rect x="1260" y="195" width="5" height="26" fill="#0f4d1e"/><rect x="1261" y="196" width="3" height="24" fill="#4caf50"/><rect x="1268" y="175" width="1" height="22" fill="#666666"/><rect x="1266" y="175" width="5" height="22" fill="#0f4d1e"/><rect x="1267" y="176" width="3" height="20" fill="#4caf50"/><rect x="1274" y="150" width="1" height="32" fill="#666666"/><rect x="1272" y="155" width="5" height="27" fill="#0f4d1e"/><rect x="1273" y="156" width="3" height="25" fill="#4caf50"/><rect x="1280" y="144" width="1" height="20" fill="#666666"/><rect x="1278" y="156" width="5" height="3" fill="#0f4d1e"/><rect x="1279" y="157" width="3" height="1" fill="#4caf50"/><rect x="1285" y="145" width="1" height="16" fill="#666666"/><rect x="1283" y="148" width="5" height="10" fill="#0f4d1e"/><rect x="1284" y="149" width="3" height="8" fill="#4caf50"/><rect x="1291" y="136" width="1" height="19" fill="#666666"/><rect x="1289" y="137" width="5" height="16" fill="#0f4d1e"/><rect x="1290" y="138" width="3" height="14" fill="#4caf50"/><rect x="1297" y="123" width="1" height="18" fill="#666666"/><rect x="1295" y="132" width="5" height="9" fill="#0f4d1e"/><rect x="1296" y="133" width="3" height="7" fill="#4caf50"/><rect x="1303" y="128" width="1" height="47" fill="#666666"/><rect x="1301" y="132" width="5" height="39" fill="#5a0d08"/><rect x="1302" y="133" width="3" height="37" fill="#e15a48"/><rect x="1309" y="154" width="1" height="49" fill="#666666"/><rect x="1307" y="158" width="5" height="14" fill="#0f4d1e"/><rect x="1308" y="159" width="3" height="12" fill="#4caf50"/><rect x="1315" y="143" width="1" height="18" fill="#666666"/><rect x="1313" y="150" width="5" height="10" fill="#0f4d1e"/><rect x="1314" y="151" width="3" height="8" fill="#4caf50"/><rect x="1321" y="135" width="1" height="20" fill="#666666"/><rect x="1319" y="135" width="5" height="20" fill="#0f4d1e"/><rect x="1320" y="136" width="3" height="18" fill="#4caf50"/><rect x="1327" y="129" width="1" height="17" fill="#666666"/><rect x="1325" y="137" width="5" height="2" fill="#5a0d08"/><rect x="1332" y="121" width="1" height="19" fill="#666666"/><rect x="1330" y="122" width="5" height="18" fill="#0f4d1e"/><rect x="1331" y="123" width="3" height="16" fill="#4caf50"/><rect x="1338" y="112" width="1" height="17" fill="#666666"/><rect x="1336" y="119" width="5" height="6" fill="#0f4d1e"/><rect x="1337" y="120" width="3" height="4" fill="#4caf50"/><rect x="1344" y="114" width="1" height="8" fill="#666666"/><rect x="1342" y="118" width="5" height="3" fill="#0f4d1e"/><rect x="1343" y="119" width="3" height="1" fill="#4caf50"/><rect x="1350" y="118" width="1" height="8" fill="#666666"/><rect x="1348" y="119" width="5" height="3" fill="#0f4d1e"/><rect x="1349" y="120" width="3" height="1" fill="#4caf50"/><rect x="1356" y="111" width="1" height="17" fill="#666666"/><rect x="1354" y="112" width="5" height="11" fill="#0f4d1e"/><rect x="1355" y="113" width="3" height="9" fill="#4caf50"/><rect x="1362" y="99" width="1" height="21" fill="#666666"/><rect x="1360" y="100" width="5" height="16" fill="#0f4d1e"/><rect x="1361" y="101" width="3" height="14" fill="#4caf50"/><rect x="1368" y="100" width="1" height="33" fill="#666666"/><rect x="1366" y="103" width="5" height="20" fill="#5a0d08"/><rect x="1367" y="104" width="3" height="18" fill="#e15a48"/><rect x="1373" y="108" width="1" height="20" fill="#666666"/><rect x="1371" y="111" width="5" height="13" fill="#0f4d1e"/><rect x="1372" y="112" width="3" height="11" fill="#4caf50"/><rect x="1379" y="105" width="1" height="39" fill="#666666"/><rect x="1377" y="115" width="5" height="27" fill="#5a0d08"/><rect x="1378" y="116" width="3" height="25" fill="#e15a48"/><rect x="1385" y="130" width="1" height="49" fill="#666666"/><rect x="1383" y="142" width="5" height="29" fill="#5a0d08"/><rect x="1384" y="143" width="3" height="27" fill="#e15a48"/><rect x="1391" y="130" width="1" height="43" fill="#666666"/><rect x="1389" y="140" width="5" height="33" fill="#0f4d1e"/><rect x="1390" y="141" width="3" height="31" fill="#4caf50"/><rect x="1397" y="131" width="1" height="28" fill="#666666"/><rect x="1395" y="141" width="5" height="12" fill="#5a0d08"/><rect x="1396" y="142" width="3" height="10" fill="#e15a48"/><rect x="1403" y="115" width="1" height="50" fill="#666666"/><rect x="1401" y="123" width="5" height="32" fill="#0f4d1e"/><rect x="1402" y="124" width="3" height="30" fill="#4caf50"/><rect x="1409" y="112" width="1" height="17" fill="#666666"/><rect x="1407" y="116" width="5" height="11" fill="#0f4d1e"/><rect x="1408" y="117" width="3" height="9" fill="#4caf50"/><rect x="1415" y="107" width="1" height="15" fill="#666666"/><rect x="1413" y="114" width="5" height="4" fill="#0f4d1e"/><rect x="1414" y="115" width="3" height="2" fill="#4caf50"/><rect x="1420" y="108" width="1" height="41" fill="#666666"/><rect x="1418" y="116" width="5" height="9" fill="#5a0d08"/><rect x="1419" y="117" width="3" height="7" fill="#e15a48"/><rect x="1426" y="109" width="1" height="18" fill="#666666"/><rect x="1424" y="117" width="5" height="9" fill="#0f4d1e"/><rect x="1425" y="118" width="3" height="7" fill="#4caf50"/><rect x="1432" y="85" width="1" height="38" fill="#666666"/><rect x="1430" y="93" width="5" height="26" fill="#0f4d1e"/><rect x="1431" y="94" width="3" height="24" fill="#4caf50"/></g><line x1="4" y1="93.5" x2="1443" y2="93.5" stroke="#4caf50" stroke-width="1" stroke-dasharray="1 2" shape-rendering="crispEdges"/><polyline points="4.0,690.5 12.0,685.9 23.9,683.3 39.8,682.3 59.8,681.9 75.7,680.9 83.7,680.9 97.6,674.6 111.6,674.6 119.5,674.4 131.5,676.0 141.4,678.3 147.4,678.0 159.4,680.5 169.3,682.3 183.3,683.9 195.2,684.5 207.2,684.3 218.1,686.5 225.1,685.3 235.1,686.5 241.0,684.9 247.0,686.5 253.0,685.7 265.0,687.7 270.9,687.3 276.9,685.3 284.9,686.9 290.0,688.5 300.0,690.5 311.9,694.5 323.9,694.1 331.8,694.9 341.8,696.9 353.7,698.5 359.7,697.9 364.1,699.3 370.1,692.5 379.6,694.5 389.6,693.5 409.5,694.9 421.5,698.5 429.4,697.5 441.4,700.9 453.3,704.2 465.3,704.8 481.2,702.8 487.6,696.5 497.2,695.7 505.1,694.3 525.1,696.9 539.0,699.9 547.0,696.9 558.9,694.5 568.9,690.5 580.8,687.3 586.0,687.9 594.0,690.1 603.9,688.9 609.9,688.5 621.8,685.3 629.8,685.5 639.8,687.7 645.7,677.0 651.7,674.4 662.7,674.0 668.6,670.6 675.6,670.2 687.6,672.6 693.5,670.6 699.5,672.0 705.5,672.4 716.5,675.6 727.4,676.0 739.4,677.0 747.3,675.6 757.3,673.6 769.2,674.6 781.2,675.0 791.2,676.4 801.1,676.0 811.1,678.3 822.0,680.3 833.0,678.7 844.9,681.3 856.9,682.9 862.9,681.5 868.8,681.5 875.0,679.3 882.0,680.9 891.9,683.3 897.9,682.5 909.8,685.9 915.8,684.5 921.8,686.5 931.8,687.7 939.7,689.9 955.7,693.3 967.6,696.1 979.6,698.9 986.5,696.5 999.5,697.5 1009.4,697.3 1019.4,692.5 1027.4,693.3 1033.3,691.5 1049.3,692.3 1057.3,694.1 1063.2,690.9 1073.2,689.7 1081.2,690.5 1091.1,693.5 1099.1,694.3 1109.0,697.5 1123.0,701.5 1136.9,702.5 1148.9,704.4 1156.9,702.1 1160.0,702.5 1168.0,702.8 1173.9,700.5 1179.9,700.3 1187.9,701.5 1191.9,701.7 1197.8,700.5 1207.8,703.4 1213.8,704.2 1220.8,704.4 1226.7,695.9 1232.7,682.3 1238.7,681.3 1243.7,673.4 1249.6,670.6 1255.6,670.0 1261.6,670.6 1268.6,672.2 1275.5,673.4 1287.5,677.0 1297.5,679.3 1308.4,677.4 1319.4,679.9 1335.3,683.9 1347.3,688.5 1357.2,690.9 1367.2,690.3 1374.1,690.9 1383.1,687.3 1391.1,685.5 1397.0,685.9 1403.0,684.3 1415.0,686.9 1420.0,685.5 1425.9,686.9 1431.9,685.9" fill="none" stroke="#b22833" stroke-width="1.3" stroke-linejoin="round" /><polyline points="4.0,744.8 21.9,772.7 28.0,775.5 34.9,773.7 41.8,769.1 47.8,767.2 52.8,761.8 58.8,758.8 65.7,752.8 72.7,751.2 79.7,752.8 88.6,756.4 94.6,753.8 99.6,743.8 106.6,735.3 111.6,734.5 118.5,734.9 124.5,738.9 130.5,738.1 137.5,734.5 145.4,730.9 151.4,728.9 159.4,728.9 169.3,728.5 175.3,729.9 182.3,735.9 188.2,734.9 194.2,736.5 200.2,741.9 205.2,740.9 212.2,736.3 217.1,735.5 226.1,738.9 235.1,743.8 241.0,745.4 247.0,736.9 253.0,724.3 258.6,722.5 270.9,729.3 275.9,743.2 281.9,738.9 287.8,733.5 294.0,736.3 300.0,733.3 305.9,735.3 311.9,735.9 316.9,733.5 322.9,737.9 328.8,734.9 334.8,728.5 340.8,725.9 346.8,722.9 352.7,726.5 358.7,731.3 363.7,727.5 369.7,740.5 375.7,739.3 382.0,744.8 387.6,740.9 393.6,745.2 399.6,747.2 404.5,743.2 410.5,734.5 416.5,733.9 422.5,736.5 428.4,738.5 435.4,732.5 447.4,734.5 452.4,737.3 458.3,739.3 464.3,731.3 470.3,729.3 476.3,741.9 481.6,753.8 487.8,721.9 492.8,720.5 499.2,735.9 505.1,750.8 511.1,749.2 517.1,738.9 523.1,731.3 530.0,726.5 535.0,725.7 540.0,726.9 546.0,741.9 552.0,740.3 557.9,743.4 563.9,757.8 569.9,774.7 575.9,780.7 580.8,764.4 587.0,759.8 592.9,758.4 598.9,763.2 604.9,772.3 610.9,774.7 616.9,766.8 622.8,768.3 628.8,768.3 634.8,765.8 639.8,763.2 645.7,778.3 651.7,775.1 657.7,764.2 663.7,765.2 669.6,772.7 675.2,779.3 681.6,772.7 687.6,766.4 693.5,760.8 699.5,760.2 705.5,763.4 711.5,763.8 717.5,762.4 722.4,762.8 728.4,766.4 734.4,764.2 740.4,761.4 746.3,752.8 751.3,744.8 756.9,736.3 762.9,740.5 768.8,741.3 774.8,731.3 780.8,729.3 787.2,735.9 793.1,733.3 798.1,728.5 804.1,723.5 811.1,727.3 817.1,729.9 822.0,732.9 828.0,734.9 834.0,738.5 840.0,739.3 844.9,738.5 850.9,740.5 856.9,742.8 862.9,746.8 868.8,751.2 870.0,750.4 875.0,741.9 881.0,735.5 886.9,739.9 891.9,741.9 897.9,730.5 903.9,725.3 909.8,725.9 916.2,715.0 921.8,719.9 927.8,730.9 933.3,731.9 938.7,735.5 944.7,737.3 950.7,737.9 956.7,736.9 962.6,736.9 968.6,737.9 974.6,739.9 979.6,738.9 985.9,746.8 992.5,743.2 997.5,743.2 1003.9,748.8 1009.4,762.8 1015.4,790.3 1021.0,798.2 1027.4,788.7 1032.9,773.7 1039.3,767.7 1045.3,762.8 1050.3,756.2 1056.3,752.2 1062.2,742.8 1068.2,734.5 1074.2,735.9 1079.2,734.5 1084.1,735.9 1091.1,735.9 1097.1,736.9 1103.1,738.5 1109.0,739.3 1115.0,738.5 1125.0,739.9 1133.0,742.3 1138.9,742.5 1144.9,740.5 1150.9,740.9 1156.9,728.9 1161.8,720.3 1166.8,720.3 1173.9,714.4 1179.9,717.4 1185.9,724.9 1191.9,728.9 1197.8,733.3 1202.8,732.5 1208.8,734.5 1214.8,733.5 1220.8,732.5 1226.7,724.5 1232.7,728.5 1238.7,729.5 1244.7,742.8 1250.6,749.8 1256.2,762.4 1262.6,757.8 1268.6,751.2 1274.5,744.8 1280.5,742.8 1286.5,742.3 1291.5,739.9 1297.1,736.5 1303.4,746.8 1309.0,753.8 1315.4,745.8 1321.4,742.3 1327.3,740.9 1333.3,737.3 1339.3,735.9 1345.3,734.9 1351.2,736.5 1357.2,733.9 1362.2,731.9 1368.2,737.9 1374.1,737.5 1380.1,748.8 1384.7,763.2 1391.1,757.2 1396.1,757.2 1403.0,750.8 1409.0,740.9 1415.0,738.5 1420.0,746.8 1426.9,740.9 1431.9,728.9" fill="none" stroke="#2962ff" stroke-width="1.3" stroke-linejoin="round" /><g shape-rendering="crispEdges"><rect x="1443" y="3" width="1" height="829" fill="#4d4d4d"/><rect x="4" y="804" width="1499" height="1" fill="#4d4d4d"/></g><g font-family='"Liberation Sans", Arial, sans-serif' font-size="12" fill="#4a4a4a"><text x="1451.6" y="650.3" textLength="41.9" lengthAdjust="spacingAndGlyphs">136.000</text><text x="1451.6" y="600.3" textLength="41.9" lengthAdjust="spacingAndGlyphs">138.000</text><text x="1451.6" y="549.3" textLength="41.9" lengthAdjust="spacingAndGlyphs">140.000</text><text x="1451.6" y="499.3" textLength="41.9" lengthAdjust="spacingAndGlyphs">142.000</text><text x="1451.6" y="449.3" textLength="41.9" lengthAdjust="spacingAndGlyphs">144.000</text><text x="1451.6" y="398.3" textLength="41.9" lengthAdjust="spacingAndGlyphs">146.000</text><text x="1451.6" y="348.3" textLength="41.9" lengthAdjust="spacingAndGlyphs">148.000</text><text x="1451.6" y="298.3" textLength="41.9" lengthAdjust="spacingAndGlyphs">150.000</text><text x="1451.6" y="247.3" textLength="41.9" lengthAdjust="spacingAndGlyphs">152.000</text><text x="1451.6" y="197.3" textLength="41.9" lengthAdjust="spacingAndGlyphs">154.000</text><text x="1451.6" y="146.3" textLength="41.9" lengthAdjust="spacingAndGlyphs">156.000</text><text x="1451.6" y="96.3" textLength="41.9" lengthAdjust="spacingAndGlyphs">158.000</text><text x="1451.6" y="46.3" textLength="41.9" lengthAdjust="spacingAndGlyphs">160.000</text><text x="1451.6" y="698.9" textLength="29.2" lengthAdjust="spacingAndGlyphs">1.000</text><text x="1451.4" y="719.9" textLength="35.4" lengthAdjust="spacingAndGlyphs">250.00</text><text x="1451" y="755" textLength="22.5" lengthAdjust="spacingAndGlyphs">0.00</text><text x="1451" y="791" textLength="41" lengthAdjust="spacingAndGlyphs">−250.00</text></g><g font-family='"Liberation Sans", Arial, sans-serif' font-size="12"><path d="M1443 237 H1497 Q1499 237 1499 239 V252 Q1499 254 1497 254 H1443 Z" fill="#000000"/><text x="1452" y="250.2" textLength="41.3" lengthAdjust="spacingAndGlyphs" font-weight="bold" fill="#ffffff">151.916</text><path d="M1443 374 H1497 Q1499 374 1499 376 V389 Q1499 391 1497 391 H1443 Z" fill="#000000"/><text x="1452" y="387.2" textLength="41.3" lengthAdjust="spacingAndGlyphs" font-weight="bold" fill="#ffffff">146.474</text><path d="M1443 410 H1497 Q1499 410 1499 412 V425 Q1499 427 1497 427 H1443 Z" fill="#000000"/><text x="1452" y="423.2" textLength="41.3" lengthAdjust="spacingAndGlyphs" font-weight="bold" fill="#ffffff">145.054</text><path d="M1443 530 H1497 Q1499 530 1499 532 V545 Q1499 547 1497 547 H1443 Z" fill="#000000"/><text x="1452" y="543.2" textLength="41.3" lengthAdjust="spacingAndGlyphs" font-weight="bold" fill="#ffffff">140.286</text><path d="M1443 607 H1497 Q1499 607 1499 609 V622 Q1499 624 1497 624 H1443 Z" fill="#000000"/><text x="1452" y="620.2" textLength="41.3" lengthAdjust="spacingAndGlyphs" font-weight="bold" fill="#ffffff">137.224</text></g><g font-family='"Liberation Sans", Arial, sans-serif' font-size="12" fill="#4a4a4a"><text x="96.7" y="822" textLength="19.7" lengthAdjust="spacingAndGlyphs">Aug</text><text x="231.7" y="822" textLength="19.7" lengthAdjust="spacingAndGlyphs">Sep</text><text x="355.9" y="822" textLength="17.2" lengthAdjust="spacingAndGlyphs">Oct</text><text x="483.7" y="822" textLength="19.6" lengthAdjust="spacingAndGlyphs">Nov</text><text x="613.7" y="822" textLength="19.6" lengthAdjust="spacingAndGlyphs">Dec</text><text x="727.1" y="822" textLength="26.7" lengthAdjust="spacingAndGlyphs" font-weight="bold">2024</text><text x="860.0" y="822" textLength="19.0" lengthAdjust="spacingAndGlyphs">Feb</text><text x="983.0" y="822" textLength="19.0" lengthAdjust="spacingAndGlyphs">Mar</text><text x="1106.9" y="822" textLength="17.2" lengthAdjust="spacingAndGlyphs">Apr</text><text x="1234.1" y="822" textLength="20.9" lengthAdjust="spacingAndGlyphs">May</text><text x="1370.6" y="822" textLength="17.8" lengthAdjust="spacingAndGlyphs">Jun</text></g><circle cx="25.5" cy="15.6" r="5.8" fill="#e9ebf4"/><circle cx="25.3" cy="15.3" r="2.8" fill="#f23645"/><circle cx="19" cy="21.9" r="7" fill="#ffffff"/><clipPath id="usc"><circle cx="19" cy="21.9" r="6.1"/></clipPath><g clip-path="url(#usc)"><rect x="12" y="15" width="14" height="14" fill="#ffffff"/><rect x="12" y="15" width="14" height="3" fill="#f23645"/><rect x="12" y="21" width="14" height="2" fill="#f23645"/><rect x="12" y="25" width="14" height="4" fill="#f23645"/><rect x="12" y="15" width="8" height="8" fill="#2196f3"/><g fill="#ffffff" opacity="0.85"><circle cx="14.5" cy="19.5" r="0.6"/><circle cx="16.5" cy="17.5" r="0.6"/><circle cx="18.5" cy="17.5" r="0.6"/><circle cx="16.5" cy="19.5" r="0.6"/><circle cx="18.5" cy="19.5" r="0.6"/><circle cx="14.5" cy="21.5" r="0.6"/><circle cx="16.5" cy="21.5" r="0.6"/><circle cx="18.5" cy="21.5" r="0.6"/></g></g><g font-family='"Liberation Sans", Arial, sans-serif' font-size="15" fill="#555555"><text x="34.6" y="24.8" textLength="77" lengthAdjust="spacingAndGlyphs">U.S. Dollar</text><text x="118.6" y="24.8" textLength="5.4" lengthAdjust="spacingAndGlyphs">/</text><text x="130" y="24.8" textLength="66.5" lengthAdjust="spacingAndGlyphs">Japanese</text><text x="201.6" y="24.8" textLength="24" lengthAdjust="spacingAndGlyphs">Yen</text><text x="228.6" y="24.8">·</text><text x="237" y="24.8" textLength="18.8" lengthAdjust="spacingAndGlyphs">1D</text><text x="258.8" y="24.8">·</text><text x="267.3" y="24.8" textLength="99.8" lengthAdjust="spacingAndGlyphs">PEPPERSTONE</text></g><circle cx="390.8" cy="19" r="8.8" fill="#daf1ec"/><circle cx="390.8" cy="19" r="4" fill="#089981"/><text y="24" font-family='"Liberation Sans", Arial, sans-serif' font-size="12.2"><tspan x="416.3" fill="#4a4a4a">O</tspan><tspan fill="#1f5e36">156.951</tspan><tspan x="477.8" fill="#4a4a4a">H</tspan><tspan fill="#1f5e36">158.258</tspan><tspan x="540" fill="#4a4a4a">L</tspan><tspan fill="#1f5e36">156.797</tspan><tspan x="598.5" fill="#4a4a4a">C</tspan><tspan fill="#1f5e36">157.958</tspan><tspan x="659" fill="#1f5e36">+0.952 (+0.61%)</tspan></text><rect x="12.5" y="35.5" width="60" height="23" rx="3" fill="#ffffff" stroke="#f23645" stroke-width="1"/><text x="20.8" y="51.4" font-family='"Liberation Sans", Arial, sans-serif' font-size="12.5" fill="#f23645">157.95<tspan font-size="10" dy="-3">8</tspan></text><text x="80.6" y="51.4" font-family='"Liberation Sans", Arial, sans-serif' font-size="12.5" fill="#2a2a2a">0.4</text><rect x="104.5" y="35.5" width="60" height="23" rx="3" fill="#ffffff" stroke="#2962ff" stroke-width="1"/><text x="112.6" y="51.4" font-family='"Liberation Sans", Arial, sans-serif' font-size="12.5" fill="#2962ff">157.96<tspan font-size="10" dy="-3">2</tspan></text><text x="13" y="79.9" font-family='"Liberation Sans", Arial, sans-serif' font-size="12" fill="#4a4a4a" textLength="382.6" lengthAdjust="spacingAndGlyphs">MA Ribbon SMA close 20 SMA close 50 SMA close 100 SMA close 200</text><text y="79.9" font-family='"Liberation Sans", Arial, sans-serif' font-size="12"><tspan x="405.1" fill="#f7525f">156.717</tspan><tspan x="456.9" fill="#2962ff">155.565</tspan><tspan x="509" fill="#2a2a2a">∅</tspan><tspan x="523.1" fill="#2a2a2a">150.125</tspan></text><rect x="13.5" y="90.5" width="28" height="19" rx="3" fill="#ffffff" stroke="#e0e3eb" stroke-width="1"/><path d="M23.5 102 L27.5 98 L31.5 102" fill="none" stroke="#131722" stroke-width="1.3"/><rect x="1447.5" y="7.5" width="51" height="25" rx="4" fill="#ffffff" stroke="#e0e3eb" stroke-width="1"/><text x="1451" y="23.9" font-family='"Liberation Sans", Arial, sans-serif' font-size="12" fill="#131722" textLength="19.2" lengthAdjust="spacingAndGlyphs">JPY</text><path d="M1489 19 L1491.5 21.5 L1494 19" fill="none" stroke="#131722" stroke-width="1.2"/><rect x="8" y="673" width="117" height="23" fill="#ffffff" opacity="0.7"/><rect x="8" y="713" width="160" height="24" fill="#ffffff" opacity="0.7"/><text x="13" y="688.7" font-family='"Liberation Sans", Arial, sans-serif' font-size="12" fill="#4a4a4a" textLength="67" lengthAdjust="spacingAndGlyphs">ATR 14 RMA</text><text x="88.6" y="688.7" font-family='"Liberation Sans", Arial, sans-serif' font-size="12" fill="#b22833" textLength="31.9" lengthAdjust="spacingAndGlyphs">1.177</text><text x="13" y="730.5" font-family='"Liberation Sans", Arial, sans-serif' font-size="12" fill="#4a4a4a" textLength="101.5" lengthAdjust="spacingAndGlyphs">CCI 20 hlc3 SMA 5</text><text x="123.9" y="730.5" font-family='"Liberation Sans", Arial, sans-serif' font-size="12" fill="#2962ff" textLength="37.5" lengthAdjust="spacingAndGlyphs">145.28</text><g transform="translate(16 772) scale(0.82)" fill="#131722"><g stroke="#ffffff" stroke-width="5" stroke-linejoin="round"><path d="M14 22H7V11H0V4h14v18zM28 22h-8l7.5-18h8L28 22z"/><circle cx="20" cy="8" r="4"/></g><path d="M14 22H7V11H0V4h14v18zM28 22h-8l7.5-18h8L28 22z"/><circle cx="20" cy="8" r="4"/></g><path d="M1466.3 818.4 L1470 812.3 L1477 812.3 L1480.7 818.4 L1477 824.5 L1470 824.5 Z" fill="none" stroke="#131722" stroke-width="1.2"/><circle cx="1473.5" cy="818.4" r="2" fill="none" stroke="#131722" stroke-width="1.1"/><g font-family='"Liberation Sans", "Noto Sans CJK SC", sans-serif' font-weight="900" font-size="58" opacity="0.62"><text x="1256" y="790" fill="#333333" filter="url(#blur1)" transform="translate(2.2 2.2) skewX(-12) translate(168 0)" textLength="242" lengthAdjust="spacingAndGlyphs">海马财经</text><text x="1256" y="790" fill="#ffffff" transform="skewX(-12) translate(168 0)" textLength="242" lengthAdjust="spacingAndGlyphs">海马财经</text></g><g font-family='"Liberation Sans", Arial, sans-serif' font-weight="bold" font-style="italic" font-size="33" opacity="0.55"><text y="830.6" fill="#2f4680" stroke="#2f4680" stroke-width="1"><tspan x="1273.3">z</tspan><tspan x="1300.5">z</tspan><tspan x="1328.4">r</tspan><tspan x="1353.0">t</tspan><tspan x="1372.2">0</tspan><tspan x="1406.8">1</tspan><tspan x="1430.7">.</tspan><tspan x="1450.6">c</tspan><tspan x="1475.3">n</tspan></text><text y="828.6" fill="#42a5f5" stroke="#42a5f5" stroke-width="1"><tspan x="1271.3">z</tspan><tspan x="1298.5">z</tspan><tspan x="1326.4">r</tspan><tspan x="1351.0">t</tspan><tspan x="1370.2">0</tspan><tspan x="1404.8">1</tspan><tspan x="1428.7">.</tspan><tspan x="1448.6">c</tspan><tspan x="1473.3">n</tspan></text></g></svg></body></html>
